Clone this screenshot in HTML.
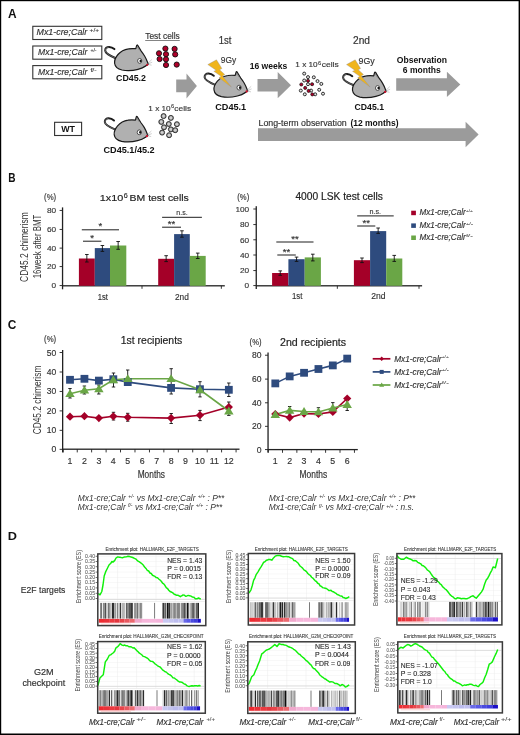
<!DOCTYPE html><html><head><meta charset="utf-8"><style>html,body{margin:0;padding:0;background:#fff;}svg{display:block;will-change:transform;}text{font-family:"Liberation Sans", sans-serif;}</style></head><body>
<svg width="520" height="735" viewBox="0 0 520 735">
<rect x="0" y="0" width="520" height="735" fill="#fff"/>
<rect x="0" y="0" width="520" height="1.2" fill="#000"/>
<rect x="0" y="0" width="1.2" height="735" fill="#000"/>
<rect x="518.6" y="0" width="1.4" height="735" fill="#000"/>
<rect x="0" y="733.5" width="520" height="1.5" fill="#000"/>
<text x="8.10" y="18.10" font-size="12.70" font-weight="bold" font-style="normal" fill="#111" text-anchor="start" textLength="8.60" lengthAdjust="spacingAndGlyphs" >A</text>
<rect x="32.8" y="26.30" width="69" height="13.2" fill="#fff" stroke="#333" stroke-width="1.1"/>
<text x="36.50" y="35.40" font-size="9.00" font-weight="normal" font-style="italic" fill="#333" text-anchor="start" textLength="50.80" lengthAdjust="spacingAndGlyphs" stroke="#333" stroke-width="0.160" >Mx1-cre;Calr</text>
<text x="89.60" y="32.20" font-size="5.60" font-weight="normal" font-style="normal" fill="#333" text-anchor="start" textLength="9.40" lengthAdjust="spacingAndGlyphs" stroke="#333" stroke-width="0.100" >+/+</text>
<rect x="32.8" y="46.00" width="69" height="13.2" fill="#fff" stroke="#333" stroke-width="1.1"/>
<text x="38.00" y="55.10" font-size="9.00" font-weight="normal" font-style="italic" fill="#333" text-anchor="start" textLength="49.30" lengthAdjust="spacingAndGlyphs" stroke="#333" stroke-width="0.160" >Mx1-cre;Calr</text>
<text x="90.40" y="51.90" font-size="5.60" font-weight="normal" font-style="normal" fill="#333" text-anchor="start" textLength="6.20" lengthAdjust="spacingAndGlyphs" stroke="#333" stroke-width="0.100" >+/-</text>
<rect x="32.8" y="65.60" width="69" height="13.2" fill="#fff" stroke="#333" stroke-width="1.1"/>
<text x="38.00" y="74.70" font-size="9.00" font-weight="normal" font-style="italic" fill="#333" text-anchor="start" textLength="49.30" lengthAdjust="spacingAndGlyphs" stroke="#333" stroke-width="0.160" >Mx1-cre;Calr</text>
<text x="90.40" y="71.50" font-size="5.60" font-weight="normal" font-style="normal" fill="#333" text-anchor="start" textLength="6.20" lengthAdjust="spacingAndGlyphs" stroke="#333" stroke-width="0.100" >f/-</text>
<g transform="translate(100,40)">
<path d="M15.8,18.2 C9.8,15.8 5.4,13.4 5.2,10.6 C5.1,8.2 6.9,6.8 9.1,6.9 C11.1,7 13,7.9 14.4,9.1" fill="none" stroke="#1a1a1a" stroke-width="2.0" stroke-linecap="round"/>
<path d="M15.6,18.1 C9.9,15.8 5.5,13.3 5.3,10.6 C5.2,8.6 6.8,7.2 8.8,7.2" fill="none" stroke="#9a9a9a" stroke-width="0.6"/>
<path d="M48.3,24.2 C47.3,21.5 46.2,18.5 44.6,16 C43.5,14.2 42.3,12.5 41.2,11.1 L37.7,5.3 Q37.1,4.6 36.7,5.4 L35.8,8.7 C33.5,8.5 31,8.4 28.5,8.8 C24,9.4 20.5,11.5 18,14.5 C15.6,17.3 14.3,20.5 14.6,23.2 C15,26.5 17.5,29 22,30 C27,30.9 33,30.6 38,29.3 C41.5,28.4 44,27.2 45.5,26 Z" fill="#b0b0b0" stroke="#1a1a1a" stroke-width="1.2" stroke-linejoin="round"/>
<path d="M36.6,8.6 L37.3,6.6 L39.6,10.4" fill="none" stroke="#666" stroke-width="0.5"/>
<ellipse cx="39.7" cy="20.9" rx="2.1" ry="2.4" fill="#fff" stroke="#1a1a1a" stroke-width="0.7"/>
<ellipse cx="40.6" cy="20.95" rx="1.1" ry="1.3" fill="#111"/>
<circle cx="47.3" cy="24.8" r="1.15" fill="#d40f2c"/>
<path d="M46.6,25.7 L43.6,27.2" stroke="#1a1a1a" stroke-width="0.6"/>
<path d="M48,23.2 L51.8,19.6 M48.3,23.8 L52.2,22.2 M48.2,24.4 L51.6,25.2" stroke="#999" stroke-width="0.45"/>
</g>
<g transform="translate(199.4,66.7)">
<path d="M15.8,18.2 C9.8,15.8 5.4,13.4 5.2,10.6 C5.1,8.2 6.9,6.8 9.1,6.9 C11.1,7 13,7.9 14.4,9.1" fill="none" stroke="#1a1a1a" stroke-width="2.0" stroke-linecap="round"/>
<path d="M15.6,18.1 C9.9,15.8 5.5,13.3 5.3,10.6 C5.2,8.6 6.8,7.2 8.8,7.2" fill="none" stroke="#9a9a9a" stroke-width="0.6"/>
<path d="M48.3,24.2 C47.3,21.5 46.2,18.5 44.6,16 C43.5,14.2 42.3,12.5 41.2,11.1 L37.7,5.3 Q37.1,4.6 36.7,5.4 L35.8,8.7 C33.5,8.5 31,8.4 28.5,8.8 C24,9.4 20.5,11.5 18,14.5 C15.6,17.3 14.3,20.5 14.6,23.2 C15,26.5 17.5,29 22,30 C27,30.9 33,30.6 38,29.3 C41.5,28.4 44,27.2 45.5,26 Z" fill="#b0b0b0" stroke="#1a1a1a" stroke-width="1.2" stroke-linejoin="round"/>
<path d="M36.6,8.6 L37.3,6.6 L39.6,10.4" fill="none" stroke="#666" stroke-width="0.5"/>
<ellipse cx="39.7" cy="20.9" rx="2.1" ry="2.4" fill="#fff" stroke="#1a1a1a" stroke-width="0.7"/>
<ellipse cx="40.6" cy="20.95" rx="1.1" ry="1.3" fill="#111"/>
<circle cx="47.3" cy="24.8" r="1.15" fill="#d40f2c"/>
<path d="M46.6,25.7 L43.6,27.2" stroke="#1a1a1a" stroke-width="0.6"/>
<path d="M48,23.2 L51.8,19.6 M48.3,23.8 L52.2,22.2 M48.2,24.4 L51.6,25.2" stroke="#999" stroke-width="0.45"/>
</g>
<g transform="translate(337.9,67.1)">
<path d="M15.8,18.2 C9.8,15.8 5.4,13.4 5.2,10.6 C5.1,8.2 6.9,6.8 9.1,6.9 C11.1,7 13,7.9 14.4,9.1" fill="none" stroke="#1a1a1a" stroke-width="2.0" stroke-linecap="round"/>
<path d="M15.6,18.1 C9.9,15.8 5.5,13.3 5.3,10.6 C5.2,8.6 6.8,7.2 8.8,7.2" fill="none" stroke="#9a9a9a" stroke-width="0.6"/>
<path d="M48.3,24.2 C47.3,21.5 46.2,18.5 44.6,16 C43.5,14.2 42.3,12.5 41.2,11.1 L37.7,5.3 Q37.1,4.6 36.7,5.4 L35.8,8.7 C33.5,8.5 31,8.4 28.5,8.8 C24,9.4 20.5,11.5 18,14.5 C15.6,17.3 14.3,20.5 14.6,23.2 C15,26.5 17.5,29 22,30 C27,30.9 33,30.6 38,29.3 C41.5,28.4 44,27.2 45.5,26 Z" fill="#b0b0b0" stroke="#1a1a1a" stroke-width="1.2" stroke-linejoin="round"/>
<path d="M36.6,8.6 L37.3,6.6 L39.6,10.4" fill="none" stroke="#666" stroke-width="0.5"/>
<ellipse cx="39.7" cy="20.9" rx="2.1" ry="2.4" fill="#fff" stroke="#1a1a1a" stroke-width="0.7"/>
<ellipse cx="40.6" cy="20.95" rx="1.1" ry="1.3" fill="#111"/>
<circle cx="47.3" cy="24.8" r="1.15" fill="#d40f2c"/>
<path d="M46.6,25.7 L43.6,27.2" stroke="#1a1a1a" stroke-width="0.6"/>
<path d="M48,23.2 L51.8,19.6 M48.3,23.8 L52.2,22.2 M48.2,24.4 L51.6,25.2" stroke="#999" stroke-width="0.45"/>
</g>
<g transform="translate(99.6,111.4)">
<path d="M15.8,18.2 C9.8,15.8 5.4,13.4 5.2,10.6 C5.1,8.2 6.9,6.8 9.1,6.9 C11.1,7 13,7.9 14.4,9.1" fill="none" stroke="#1a1a1a" stroke-width="2.0" stroke-linecap="round"/>
<path d="M15.6,18.1 C9.9,15.8 5.5,13.3 5.3,10.6 C5.2,8.6 6.8,7.2 8.8,7.2" fill="none" stroke="#9a9a9a" stroke-width="0.6"/>
<path d="M48.3,24.2 C47.3,21.5 46.2,18.5 44.6,16 C43.5,14.2 42.3,12.5 41.2,11.1 L37.7,5.3 Q37.1,4.6 36.7,5.4 L35.8,8.7 C33.5,8.5 31,8.4 28.5,8.8 C24,9.4 20.5,11.5 18,14.5 C15.6,17.3 14.3,20.5 14.6,23.2 C15,26.5 17.5,29 22,30 C27,30.9 33,30.6 38,29.3 C41.5,28.4 44,27.2 45.5,26 Z" fill="#b0b0b0" stroke="#1a1a1a" stroke-width="1.2" stroke-linejoin="round"/>
<path d="M36.6,8.6 L37.3,6.6 L39.6,10.4" fill="none" stroke="#666" stroke-width="0.5"/>
<ellipse cx="39.7" cy="20.9" rx="2.1" ry="2.4" fill="#fff" stroke="#1a1a1a" stroke-width="0.7"/>
<ellipse cx="40.6" cy="20.95" rx="1.1" ry="1.3" fill="#111"/>
<circle cx="47.3" cy="24.8" r="1.15" fill="#d40f2c"/>
<path d="M46.6,25.7 L43.6,27.2" stroke="#1a1a1a" stroke-width="0.6"/>
<path d="M48,23.2 L51.8,19.6 M48.3,23.8 L52.2,22.2 M48.2,24.4 L51.6,25.2" stroke="#999" stroke-width="0.45"/>
</g>
<polygon points="207.80,64.60 216.50,59.80 221.90,68.50 219.60,69.80 224.80,74.50 222.50,76.00 231.40,87.10 219.00,77.70 221.10,76.30 213.80,71.30 216.10,70.20" fill="#f0b51c" stroke="#8a8aa0" stroke-width="0.35"/>
<polygon points="346.50,64.60 355.20,59.80 360.60,68.50 358.30,69.80 363.50,74.50 361.20,76.00 370.10,87.10 357.70,77.70 359.80,76.30 352.50,71.30 354.80,70.20" fill="#f0b51c" stroke="#8a8aa0" stroke-width="0.35"/>
<text x="145.20" y="39.40" font-size="9.00" font-weight="normal" font-style="normal" fill="#333" text-anchor="start" textLength="34.60" lengthAdjust="spacingAndGlyphs" stroke="#333" stroke-width="0.160" >Test cells</text>
<rect x="145.2" y="40.0" width="34.6" height="0.6" fill="#333"/>
<circle cx="165.4" cy="48.6" r="2.6" fill="#b0002a" stroke="#111" stroke-width="0.9"/>
<circle cx="174.6" cy="48.9" r="2.6" fill="#b0002a" stroke="#111" stroke-width="0.9"/>
<circle cx="159" cy="53.3" r="2.6" fill="#b0002a" stroke="#111" stroke-width="0.9"/>
<circle cx="166" cy="54.2" r="2.6" fill="#b0002a" stroke="#111" stroke-width="0.9"/>
<circle cx="175.2" cy="54.4" r="2.6" fill="#b0002a" stroke="#111" stroke-width="0.9"/>
<circle cx="159.6" cy="59" r="2.6" fill="#b0002a" stroke="#111" stroke-width="0.9"/>
<circle cx="166" cy="59.3" r="2.6" fill="#b0002a" stroke="#111" stroke-width="0.9"/>
<circle cx="166" cy="65" r="2.6" fill="#b0002a" stroke="#111" stroke-width="0.9"/>
<circle cx="176.7" cy="64.6" r="2.6" fill="#b0002a" stroke="#111" stroke-width="0.9"/>
<text x="116.00" y="81.00" font-size="8.30" font-weight="bold" font-style="normal" fill="#111" text-anchor="start" textLength="30.00" lengthAdjust="spacingAndGlyphs" >CD45.2</text>
<text x="218.70" y="43.70" font-size="10.00" font-weight="normal" font-style="normal" fill="#333" text-anchor="start" textLength="12.70" lengthAdjust="spacingAndGlyphs" stroke="#333" stroke-width="0.178" >1st</text>
<text x="220.80" y="63.30" font-size="8.30" font-weight="normal" font-style="normal" fill="#333" text-anchor="start" textLength="15.50" lengthAdjust="spacingAndGlyphs" stroke="#333" stroke-width="0.148" >9Gy</text>
<text x="249.70" y="69.00" font-size="9.30" font-weight="bold" font-style="normal" fill="#111" text-anchor="start" textLength="37.70" lengthAdjust="spacingAndGlyphs" >16 weeks</text>
<text x="215.20" y="110.20" font-size="8.40" font-weight="bold" font-style="normal" fill="#111" text-anchor="start" textLength="31.00" lengthAdjust="spacingAndGlyphs" >CD45.1</text>
<polygon points="176.2,79.6 186.5,79.6 186.5,73.5 196.9,85.9 186.5,98.5 186.5,92.3 176.2,92.3" fill="#9b9b9b"/>
<polygon points="257.5,78.9 277.7,78.9 277.7,72.0 291.0,85.2 277.7,98.3 277.7,91.6 257.5,91.6" fill="#9b9b9b"/>
<polygon points="396.2,78.2 446.9,78.2 446.9,71.8 460.3,84.4 446.9,96.9 446.9,90.8 396.2,90.8" fill="#9b9b9b"/>
<polygon points="258.0,128.2 465.6,128.2 465.6,121.8 478.6,134.6 465.6,147.2 465.6,141.0 258.0,141.0" fill="#9b9b9b"/>
<text x="295.30" y="66.90" font-size="7.80" font-weight="normal" font-style="normal" fill="#333" text-anchor="start" textLength="22.40" lengthAdjust="spacingAndGlyphs" stroke="#333" stroke-width="0.139" >1 x 10</text>
<text x="318.00" y="64.60" font-size="4.90" font-weight="normal" font-style="normal" fill="#333" text-anchor="start" textLength="3.20" lengthAdjust="spacingAndGlyphs" stroke="#333" stroke-width="0.087" >6</text>
<text x="321.70" y="66.90" font-size="7.80" font-weight="normal" font-style="normal" fill="#333" text-anchor="start" textLength="17.00" lengthAdjust="spacingAndGlyphs" stroke="#333" stroke-width="0.139" >cells</text>
<circle cx="304.2" cy="73.6" r="1.5" fill="#e8e8e8" stroke="#111" stroke-width="0.85"/>
<circle cx="308" cy="77.1" r="1.5" fill="#e8e8e8" stroke="#111" stroke-width="0.85"/>
<circle cx="313.8" cy="77.3" r="1.5" fill="#e8e8e8" stroke="#111" stroke-width="0.85"/>
<circle cx="304.2" cy="80.5" r="1.5" fill="#e8e8e8" stroke="#111" stroke-width="0.85"/>
<circle cx="317.5" cy="81.1" r="1.5" fill="#e8e8e8" stroke="#111" stroke-width="0.85"/>
<circle cx="321.3" cy="83.9" r="1.5" fill="#e8e8e8" stroke="#111" stroke-width="0.85"/>
<circle cx="308" cy="84.2" r="1.5" fill="#e8e8e8" stroke="#111" stroke-width="0.85"/>
<circle cx="300.8" cy="90.6" r="1.5" fill="#e8e8e8" stroke="#111" stroke-width="0.85"/>
<circle cx="311.1" cy="90.6" r="1.5" fill="#e8e8e8" stroke="#111" stroke-width="0.85"/>
<circle cx="319.2" cy="89.8" r="1.5" fill="#e8e8e8" stroke="#111" stroke-width="0.85"/>
<circle cx="304.8" cy="94.3" r="1.5" fill="#e8e8e8" stroke="#111" stroke-width="0.85"/>
<circle cx="315.2" cy="94.3" r="1.5" fill="#e8e8e8" stroke="#111" stroke-width="0.85"/>
<circle cx="323" cy="93.7" r="1.5" fill="#e8e8e8" stroke="#111" stroke-width="0.85"/>
<circle cx="308" cy="80.8" r="1.55" fill="#b0002a" stroke="#111" stroke-width="0.7"/>
<circle cx="301.3" cy="84.5" r="1.55" fill="#b0002a" stroke="#111" stroke-width="0.7"/>
<circle cx="312.1" cy="84.2" r="1.55" fill="#b0002a" stroke="#111" stroke-width="0.7"/>
<circle cx="305.2" cy="87.9" r="1.55" fill="#b0002a" stroke="#111" stroke-width="0.7"/>
<circle cx="308.6" cy="90.9" r="1.55" fill="#b0002a" stroke="#111" stroke-width="0.7"/>
<circle cx="312.3" cy="94.4" r="1.55" fill="#b0002a" stroke="#111" stroke-width="0.7"/>
<text x="353.00" y="43.50" font-size="10.00" font-weight="normal" font-style="normal" fill="#333" text-anchor="start" textLength="17.00" lengthAdjust="spacingAndGlyphs" stroke="#333" stroke-width="0.178" >2nd</text>
<text x="358.60" y="63.70" font-size="8.30" font-weight="normal" font-style="normal" fill="#333" text-anchor="start" textLength="16.20" lengthAdjust="spacingAndGlyphs" stroke="#333" stroke-width="0.148" >9Gy</text>
<text x="354.60" y="109.80" font-size="8.40" font-weight="bold" font-style="normal" fill="#111" text-anchor="start" textLength="29.40" lengthAdjust="spacingAndGlyphs" >CD45.1</text>
<text x="396.80" y="62.80" font-size="8.60" font-weight="bold" font-style="normal" fill="#111" text-anchor="start" textLength="50.10" lengthAdjust="spacingAndGlyphs" >Observation</text>
<text x="402.80" y="73.00" font-size="8.60" font-weight="bold" font-style="normal" fill="#111" text-anchor="start" textLength="37.90" lengthAdjust="spacingAndGlyphs" >6 months</text>
<rect x="54.6" y="122.3" width="27" height="13.2" fill="#fff" stroke="#333" stroke-width="1.1"/>
<text x="61.20" y="131.90" font-size="9.00" font-weight="bold" font-style="normal" fill="#111" text-anchor="start" textLength="13.80" lengthAdjust="spacingAndGlyphs" >WT</text>
<text x="103.50" y="153.10" font-size="8.20" font-weight="bold" font-style="normal" fill="#111" text-anchor="start" textLength="51.20" lengthAdjust="spacingAndGlyphs" >CD45.1/45.2</text>
<text x="148.30" y="110.60" font-size="8.00" font-weight="normal" font-style="normal" fill="#333" text-anchor="start" textLength="22.40" lengthAdjust="spacingAndGlyphs" stroke="#333" stroke-width="0.142" >1 x 10</text>
<text x="171.00" y="108.00" font-size="4.90" font-weight="normal" font-style="normal" fill="#333" text-anchor="start" textLength="3.20" lengthAdjust="spacingAndGlyphs" stroke="#333" stroke-width="0.087" >6</text>
<text x="174.30" y="110.60" font-size="8.00" font-weight="normal" font-style="normal" fill="#333" text-anchor="start" textLength="16.80" lengthAdjust="spacingAndGlyphs" stroke="#333" stroke-width="0.142" >cells</text>
<circle cx="163.6" cy="116.1" r="2.5" fill="#a0a0a0" stroke="#1a1a1a" stroke-width="0.85"/>
<circle cx="163.6" cy="116.1" r="1.3" fill="#d0d0d0"/>
<circle cx="170.9" cy="117.9" r="2.5" fill="#a0a0a0" stroke="#1a1a1a" stroke-width="0.85"/>
<circle cx="170.9" cy="117.9" r="1.3" fill="#d0d0d0"/>
<circle cx="161.3" cy="121.9" r="2.5" fill="#a0a0a0" stroke="#1a1a1a" stroke-width="0.85"/>
<circle cx="161.3" cy="121.9" r="1.3" fill="#d0d0d0"/>
<circle cx="168.8" cy="124" r="2.5" fill="#a0a0a0" stroke="#1a1a1a" stroke-width="0.85"/>
<circle cx="168.8" cy="124" r="1.3" fill="#d0d0d0"/>
<circle cx="176.9" cy="124.2" r="2.5" fill="#a0a0a0" stroke="#1a1a1a" stroke-width="0.85"/>
<circle cx="176.9" cy="124.2" r="1.3" fill="#d0d0d0"/>
<circle cx="164" cy="127.3" r="2.5" fill="#a0a0a0" stroke="#1a1a1a" stroke-width="0.85"/>
<circle cx="164" cy="127.3" r="1.3" fill="#d0d0d0"/>
<circle cx="170.9" cy="129.4" r="2.5" fill="#a0a0a0" stroke="#1a1a1a" stroke-width="0.85"/>
<circle cx="170.9" cy="129.4" r="1.3" fill="#d0d0d0"/>
<circle cx="175.2" cy="130.2" r="2.5" fill="#a0a0a0" stroke="#1a1a1a" stroke-width="0.85"/>
<circle cx="175.2" cy="130.2" r="1.3" fill="#d0d0d0"/>
<circle cx="162.1" cy="132.6" r="2.5" fill="#a0a0a0" stroke="#1a1a1a" stroke-width="0.85"/>
<circle cx="162.1" cy="132.6" r="1.3" fill="#d0d0d0"/>
<circle cx="169.1" cy="135.2" r="2.5" fill="#a0a0a0" stroke="#1a1a1a" stroke-width="0.85"/>
<circle cx="169.1" cy="135.2" r="1.3" fill="#d0d0d0"/>
<text x="258.50" y="125.70" font-size="8.80" font-weight="normal" font-style="normal" fill="#333" text-anchor="start" textLength="88.20" lengthAdjust="spacingAndGlyphs" stroke="#333" stroke-width="0.156" >Long-term observation</text>
<text x="350.40" y="125.70" font-size="8.80" font-weight="bold" font-style="normal" fill="#111" text-anchor="start" textLength="48.10" lengthAdjust="spacingAndGlyphs" >(12 months)</text>
<text x="8.30" y="182.30" font-size="11.90" font-weight="bold" font-style="normal" fill="#111" text-anchor="start" textLength="7.30" lengthAdjust="spacingAndGlyphs" >B</text>
<rect x="61.9" y="207.4" width="1.3" height="81.9" fill="#222"/>
<rect x="62.5" y="285.15000000000003" width="162.3" height="1.3" fill="#222"/>
<rect x="59.6" y="209.95000000000002" width="3" height="0.9" fill="#222"/>
<text x="56.20" y="213.10" font-size="7.60" font-weight="normal" font-style="normal" fill="#333" text-anchor="end" textLength="9.20" lengthAdjust="spacingAndGlyphs" stroke="#333" stroke-width="0.135" >80</text>
<rect x="59.6" y="228.95000000000002" width="3" height="0.9" fill="#222"/>
<text x="56.20" y="232.10" font-size="7.60" font-weight="normal" font-style="normal" fill="#333" text-anchor="end" textLength="9.20" lengthAdjust="spacingAndGlyphs" stroke="#333" stroke-width="0.135" >60</text>
<rect x="59.6" y="247.65" width="3" height="0.9" fill="#222"/>
<text x="56.20" y="250.80" font-size="7.60" font-weight="normal" font-style="normal" fill="#333" text-anchor="end" textLength="9.20" lengthAdjust="spacingAndGlyphs" stroke="#333" stroke-width="0.135" >40</text>
<rect x="59.6" y="266.15000000000003" width="3" height="0.9" fill="#222"/>
<text x="56.20" y="269.30" font-size="7.60" font-weight="normal" font-style="normal" fill="#333" text-anchor="end" textLength="9.20" lengthAdjust="spacingAndGlyphs" stroke="#333" stroke-width="0.135" >20</text>
<rect x="59.6" y="285.15000000000003" width="3" height="0.9" fill="#222"/>
<text x="56.20" y="288.30" font-size="7.60" font-weight="normal" font-style="normal" fill="#333" text-anchor="end" textLength="4.60" lengthAdjust="spacingAndGlyphs" stroke="#333" stroke-width="0.135" >0</text>
<rect x="141.55" y="285.8" width="0.9" height="3" fill="#222"/>
<rect x="220.85000000000002" y="285.8" width="0.9" height="3" fill="#222"/>
<text x="44.10" y="200.00" font-size="8.20" font-weight="normal" font-style="normal" fill="#333" text-anchor="start" textLength="12.10" lengthAdjust="spacingAndGlyphs" stroke="#333" stroke-width="0.146" >(%)</text>
<text transform="translate(28.20,247.10) rotate(-90)" x="0" y="0" font-size="10.60" fill="#333" text-anchor="middle" textLength="69.60" lengthAdjust="spacingAndGlyphs">CD45.2 chimerism</text>
<text transform="translate(41.00,246.50) rotate(-90)" x="0" y="0" font-size="10.60" fill="#333" text-anchor="middle" textLength="63.70" lengthAdjust="spacingAndGlyphs">16week after BMT</text>
<text x="99.80" y="200.70" font-size="9.20" font-weight="normal" font-style="normal" fill="#222" text-anchor="start" textLength="23.50" lengthAdjust="spacingAndGlyphs" stroke="#222" stroke-width="0.164" >1x10</text>
<text x="123.70" y="197.60" font-size="7.00" font-weight="normal" font-style="normal" fill="#222" text-anchor="start" textLength="4.00" lengthAdjust="spacingAndGlyphs" stroke="#222" stroke-width="0.124" >6</text>
<text x="129.60" y="200.70" font-size="9.20" font-weight="normal" font-style="normal" fill="#222" text-anchor="start" textLength="59.20" lengthAdjust="spacingAndGlyphs" stroke="#222" stroke-width="0.164" >BM test cells</text>
<text x="97.70" y="299.60" font-size="8.40" font-weight="normal" font-style="normal" fill="#333" text-anchor="start" textLength="10.20" lengthAdjust="spacingAndGlyphs" stroke="#333" stroke-width="0.149" >1st</text>
<text x="174.90" y="299.60" font-size="8.40" font-weight="normal" font-style="normal" fill="#333" text-anchor="start" textLength="13.90" lengthAdjust="spacingAndGlyphs" stroke="#333" stroke-width="0.149" >2nd</text>
<rect x="78.90" y="258.50" width="15.90" height="27.30" fill="#a40028"/>
<rect x="94.80" y="248.10" width="15.20" height="37.70" fill="#2e4b7e"/>
<rect x="110.00" y="245.50" width="16.30" height="40.30" fill="#6aa646"/>
<path d="M86.85,254.50 V262.00 M85.05,254.50 H88.65 M85.05,262.00 H88.65" stroke="#111" stroke-width="0.9" fill="none"/>
<path d="M102.40,245.50 V251.40 M100.60,245.50 H104.20 M100.60,251.40 H104.20" stroke="#111" stroke-width="0.9" fill="none"/>
<path d="M118.15,241.50 V249.30 M116.35,241.50 H119.95 M116.35,249.30 H119.95" stroke="#111" stroke-width="0.9" fill="none"/>
<rect x="158.20" y="258.80" width="15.90" height="27.00" fill="#a40028"/>
<rect x="174.10" y="234.10" width="15.70" height="51.70" fill="#2e4b7e"/>
<rect x="189.80" y="255.90" width="15.90" height="29.90" fill="#6aa646"/>
<path d="M166.15,255.70 V261.60 M164.35,255.70 H167.95 M164.35,261.60 H167.95" stroke="#111" stroke-width="0.9" fill="none"/>
<path d="M181.95,230.80 V237.20 M180.15,230.80 H183.75 M180.15,237.20 H183.75" stroke="#111" stroke-width="0.9" fill="none"/>
<path d="M197.75,253.10 V258.50 M195.95,253.10 H199.55 M195.95,258.50 H199.55" stroke="#111" stroke-width="0.9" fill="none"/>
<rect x="81.80" y="229.30" width="37.20" height="1.0" fill="#1e1e1e"/>
<text x="100.40" y="229.30" font-size="9.50" font-weight="normal" font-style="normal" fill="#333" text-anchor="middle" stroke="#333" stroke-width="0.169" >*</text>
<rect x="83.00" y="240.70" width="18.40" height="1.0" fill="#1e1e1e"/>
<text x="92.20" y="240.70" font-size="9.50" font-weight="normal" font-style="normal" fill="#333" text-anchor="middle" stroke="#333" stroke-width="0.169" >*</text>
<rect x="162.10" y="216.80" width="39.80" height="1.0" fill="#1e1e1e"/>
<text x="182.00" y="215.20" font-size="7.00" font-weight="normal" font-style="normal" fill="#333" text-anchor="middle" stroke="#333" stroke-width="0.124" >n.s.</text>
<rect x="162.10" y="226.70" width="18.90" height="1.0" fill="#1e1e1e"/>
<text x="171.50" y="226.70" font-size="9.50" font-weight="normal" font-style="normal" fill="#333" text-anchor="middle" stroke="#333" stroke-width="0.169" >**</text>
<rect x="255.6" y="206.2" width="1.3" height="82.8" fill="#222"/>
<rect x="256.2" y="285.15000000000003" width="165.90000000000003" height="1.3" fill="#222"/>
<rect x="253.3" y="208.55" width="3" height="0.9" fill="#222"/>
<text x="249.20" y="211.70" font-size="7.60" font-weight="normal" font-style="normal" fill="#333" text-anchor="end" textLength="13.80" lengthAdjust="spacingAndGlyphs" stroke="#333" stroke-width="0.135" >100</text>
<rect x="253.3" y="224.15" width="3" height="0.9" fill="#222"/>
<text x="249.20" y="227.30" font-size="7.60" font-weight="normal" font-style="normal" fill="#333" text-anchor="end" textLength="9.20" lengthAdjust="spacingAndGlyphs" stroke="#333" stroke-width="0.135" >80</text>
<rect x="253.3" y="239.35000000000002" width="3" height="0.9" fill="#222"/>
<text x="249.20" y="242.50" font-size="7.60" font-weight="normal" font-style="normal" fill="#333" text-anchor="end" textLength="9.20" lengthAdjust="spacingAndGlyphs" stroke="#333" stroke-width="0.135" >60</text>
<rect x="253.3" y="254.55" width="3" height="0.9" fill="#222"/>
<text x="249.20" y="257.70" font-size="7.60" font-weight="normal" font-style="normal" fill="#333" text-anchor="end" textLength="9.20" lengthAdjust="spacingAndGlyphs" stroke="#333" stroke-width="0.135" >40</text>
<rect x="253.3" y="270.15000000000003" width="3" height="0.9" fill="#222"/>
<text x="249.20" y="273.30" font-size="7.60" font-weight="normal" font-style="normal" fill="#333" text-anchor="end" textLength="9.20" lengthAdjust="spacingAndGlyphs" stroke="#333" stroke-width="0.135" >20</text>
<rect x="253.3" y="285.15000000000003" width="3" height="0.9" fill="#222"/>
<text x="249.20" y="288.30" font-size="7.60" font-weight="normal" font-style="normal" fill="#333" text-anchor="end" textLength="4.60" lengthAdjust="spacingAndGlyphs" stroke="#333" stroke-width="0.135" >0</text>
<rect x="336.85" y="285.8" width="0.9" height="3" fill="#222"/>
<rect x="418.55" y="285.8" width="0.9" height="3" fill="#222"/>
<text x="237.30" y="199.80" font-size="8.20" font-weight="normal" font-style="normal" fill="#333" text-anchor="start" textLength="11.90" lengthAdjust="spacingAndGlyphs" stroke="#333" stroke-width="0.146" >(%)</text>
<text x="295.40" y="199.90" font-size="10.00" font-weight="normal" font-style="normal" fill="#222" text-anchor="start" textLength="87.50" lengthAdjust="spacingAndGlyphs" stroke="#222" stroke-width="0.178" >4000 LSK test cells</text>
<text x="292.00" y="299.40" font-size="8.40" font-weight="normal" font-style="normal" fill="#333" text-anchor="start" textLength="10.40" lengthAdjust="spacingAndGlyphs" stroke="#333" stroke-width="0.149" >1st</text>
<text x="371.20" y="299.40" font-size="8.40" font-weight="normal" font-style="normal" fill="#333" text-anchor="start" textLength="14.30" lengthAdjust="spacingAndGlyphs" stroke="#333" stroke-width="0.149" >2nd</text>
<rect x="272.10" y="273.00" width="16.30" height="12.80" fill="#a40028"/>
<rect x="288.40" y="259.20" width="16.30" height="26.60" fill="#2e4b7e"/>
<rect x="304.70" y="257.40" width="16.20" height="28.40" fill="#6aa646"/>
<path d="M280.25,270.90 V275.30 M278.45,270.90 H282.05 M278.45,275.30 H282.05" stroke="#111" stroke-width="0.9" fill="none"/>
<path d="M296.55,257.10 V261.40 M294.75,257.10 H298.35 M294.75,261.40 H298.35" stroke="#111" stroke-width="0.9" fill="none"/>
<path d="M312.80,254.20 V260.90 M311.00,254.20 H314.60 M311.00,260.90 H314.60" stroke="#111" stroke-width="0.9" fill="none"/>
<rect x="353.90" y="260.20" width="16.20" height="25.60" fill="#a40028"/>
<rect x="370.10" y="231.10" width="16.10" height="54.70" fill="#2e4b7e"/>
<rect x="386.20" y="258.50" width="16.10" height="27.30" fill="#6aa646"/>
<path d="M362.00,258.00 V262.60 M360.20,258.00 H363.80 M360.20,262.60 H363.80" stroke="#111" stroke-width="0.9" fill="none"/>
<path d="M378.15,228.00 V233.40 M376.35,228.00 H379.95 M376.35,233.40 H379.95" stroke="#111" stroke-width="0.9" fill="none"/>
<path d="M394.25,255.40 V261.40 M392.45,255.40 H396.05 M392.45,261.40 H396.05" stroke="#111" stroke-width="0.9" fill="none"/>
<rect x="276.30" y="241.50" width="37.20" height="1.0" fill="#1e1e1e"/>
<text x="295.00" y="241.50" font-size="9.50" font-weight="normal" font-style="normal" fill="#333" text-anchor="middle" stroke="#333" stroke-width="0.169" >**</text>
<rect x="277.30" y="254.50" width="18.50" height="1.0" fill="#1e1e1e"/>
<text x="286.50" y="254.50" font-size="9.50" font-weight="normal" font-style="normal" fill="#333" text-anchor="middle" stroke="#333" stroke-width="0.169" >**</text>
<rect x="357.20" y="215.40" width="36.50" height="1.0" fill="#1e1e1e"/>
<text x="375.30" y="213.60" font-size="7.20" font-weight="normal" font-style="normal" fill="#333" text-anchor="middle" stroke="#333" stroke-width="0.128" >n.s.</text>
<rect x="357.20" y="225.50" width="18.10" height="1.0" fill="#1e1e1e"/>
<text x="366.20" y="225.50" font-size="9.50" font-weight="normal" font-style="normal" fill="#333" text-anchor="middle" stroke="#333" stroke-width="0.169" >**</text>
<rect x="411.2" y="210.7" width="4.7" height="4.5" fill="#a40028"/>
<text x="419.40" y="215.30" font-size="8.40" font-weight="normal" font-style="italic" fill="#333" text-anchor="start" textLength="46.30" lengthAdjust="spacingAndGlyphs" stroke="#333" stroke-width="0.149" >Mx1-cre;Calr</text>
<text x="465.90" y="212.10" font-size="3.90" font-weight="normal" font-style="normal" fill="#555" text-anchor="start" textLength="7.00" lengthAdjust="spacingAndGlyphs" stroke="#555" stroke-width="0.069" >+/+</text>
<rect x="411.2" y="223.4" width="4.7" height="4.5" fill="#2e4b7e"/>
<text x="419.40" y="228.00" font-size="8.40" font-weight="normal" font-style="italic" fill="#333" text-anchor="start" textLength="46.30" lengthAdjust="spacingAndGlyphs" stroke="#333" stroke-width="0.149" >Mx1-cre;Calr</text>
<text x="465.90" y="224.80" font-size="3.90" font-weight="normal" font-style="normal" fill="#555" text-anchor="start" textLength="7.00" lengthAdjust="spacingAndGlyphs" stroke="#555" stroke-width="0.069" >+/-</text>
<rect x="411.2" y="235.5" width="4.7" height="4.5" fill="#6aa646"/>
<text x="419.40" y="240.10" font-size="8.40" font-weight="normal" font-style="italic" fill="#333" text-anchor="start" textLength="46.30" lengthAdjust="spacingAndGlyphs" stroke="#333" stroke-width="0.149" >Mx1-cre;Calr</text>
<text x="465.90" y="236.90" font-size="3.90" font-weight="normal" font-style="normal" fill="#555" text-anchor="start" textLength="7.00" lengthAdjust="spacingAndGlyphs" stroke="#555" stroke-width="0.069" >f/-</text>
<text x="7.80" y="328.70" font-size="12.50" font-weight="bold" font-style="normal" fill="#111" text-anchor="start" textLength="8.60" lengthAdjust="spacingAndGlyphs" >C</text>
<rect x="62.0" y="350.0" width="1.3" height="102.4" fill="#222"/>
<rect x="62.6" y="448.55" width="176.9" height="1.3" fill="#222"/>
<rect x="59.6" y="352.05" width="3" height="0.9" fill="#222"/>
<text x="56.20" y="355.50" font-size="8.70" font-weight="normal" font-style="normal" fill="#333" text-anchor="end" textLength="9.50" lengthAdjust="spacingAndGlyphs" stroke="#333" stroke-width="0.155" >50</text>
<rect x="59.6" y="371.55" width="3" height="0.9" fill="#222"/>
<text x="56.20" y="375.00" font-size="8.70" font-weight="normal" font-style="normal" fill="#333" text-anchor="end" textLength="9.50" lengthAdjust="spacingAndGlyphs" stroke="#333" stroke-width="0.155" >40</text>
<rect x="59.6" y="390.95" width="3" height="0.9" fill="#222"/>
<text x="56.20" y="394.40" font-size="8.70" font-weight="normal" font-style="normal" fill="#333" text-anchor="end" textLength="9.50" lengthAdjust="spacingAndGlyphs" stroke="#333" stroke-width="0.155" >30</text>
<rect x="59.6" y="410.45" width="3" height="0.9" fill="#222"/>
<text x="56.20" y="413.90" font-size="8.70" font-weight="normal" font-style="normal" fill="#333" text-anchor="end" textLength="9.50" lengthAdjust="spacingAndGlyphs" stroke="#333" stroke-width="0.155" >20</text>
<rect x="59.6" y="429.85" width="3" height="0.9" fill="#222"/>
<text x="56.20" y="433.30" font-size="8.70" font-weight="normal" font-style="normal" fill="#333" text-anchor="end" textLength="9.50" lengthAdjust="spacingAndGlyphs" stroke="#333" stroke-width="0.155" >10</text>
<rect x="59.6" y="448.85" width="3" height="0.9" fill="#222"/>
<text x="56.20" y="452.30" font-size="8.70" font-weight="normal" font-style="normal" fill="#333" text-anchor="end" textLength="4.80" lengthAdjust="spacingAndGlyphs" stroke="#333" stroke-width="0.155" >0</text>
<rect x="62.75" y="449.2" width="0.9" height="3.2" fill="#222"/>
<rect x="76.77" y="449.2" width="0.9" height="3.2" fill="#222"/>
<rect x="91.21" y="449.2" width="0.9" height="3.2" fill="#222"/>
<rect x="105.65" y="449.2" width="0.9" height="3.2" fill="#222"/>
<rect x="120.09" y="449.2" width="0.9" height="3.2" fill="#222"/>
<rect x="134.53" y="449.2" width="0.9" height="3.2" fill="#222"/>
<rect x="148.97" y="449.2" width="0.9" height="3.2" fill="#222"/>
<rect x="163.41" y="449.2" width="0.9" height="3.2" fill="#222"/>
<rect x="177.85" y="449.2" width="0.9" height="3.2" fill="#222"/>
<rect x="192.29" y="449.2" width="0.9" height="3.2" fill="#222"/>
<rect x="206.73" y="449.2" width="0.9" height="3.2" fill="#222"/>
<rect x="221.17" y="449.2" width="0.9" height="3.2" fill="#222"/>
<rect x="235.61" y="449.2" width="0.9" height="3.2" fill="#222"/>
<text x="70.00" y="463.80" font-size="8.80" font-weight="normal" font-style="normal" fill="#333" text-anchor="middle" stroke="#333" stroke-width="0.156" >1</text>
<text x="84.44" y="463.80" font-size="8.80" font-weight="normal" font-style="normal" fill="#333" text-anchor="middle" stroke="#333" stroke-width="0.156" >2</text>
<text x="98.88" y="463.80" font-size="8.80" font-weight="normal" font-style="normal" fill="#333" text-anchor="middle" stroke="#333" stroke-width="0.156" >3</text>
<text x="113.32" y="463.80" font-size="8.80" font-weight="normal" font-style="normal" fill="#333" text-anchor="middle" stroke="#333" stroke-width="0.156" >4</text>
<text x="127.76" y="463.80" font-size="8.80" font-weight="normal" font-style="normal" fill="#333" text-anchor="middle" stroke="#333" stroke-width="0.156" >5</text>
<text x="142.20" y="463.80" font-size="8.80" font-weight="normal" font-style="normal" fill="#333" text-anchor="middle" stroke="#333" stroke-width="0.156" >6</text>
<text x="156.64" y="463.80" font-size="8.80" font-weight="normal" font-style="normal" fill="#333" text-anchor="middle" stroke="#333" stroke-width="0.156" >7</text>
<text x="171.08" y="463.80" font-size="8.80" font-weight="normal" font-style="normal" fill="#333" text-anchor="middle" stroke="#333" stroke-width="0.156" >8</text>
<text x="185.52" y="463.80" font-size="8.80" font-weight="normal" font-style="normal" fill="#333" text-anchor="middle" stroke="#333" stroke-width="0.156" >9</text>
<text x="199.96" y="463.80" font-size="8.80" font-weight="normal" font-style="normal" fill="#333" text-anchor="middle" stroke="#333" stroke-width="0.156" >10</text>
<text x="214.40" y="463.80" font-size="8.80" font-weight="normal" font-style="normal" fill="#333" text-anchor="middle" stroke="#333" stroke-width="0.156" >11</text>
<text x="228.84" y="463.80" font-size="8.80" font-weight="normal" font-style="normal" fill="#333" text-anchor="middle" stroke="#333" stroke-width="0.156" >12</text>
<text x="137.70" y="477.60" font-size="10.00" font-weight="normal" font-style="normal" fill="#333" text-anchor="start" textLength="27.30" lengthAdjust="spacingAndGlyphs" stroke="#333" stroke-width="0.178" >Months</text>
<text x="44.10" y="342.00" font-size="8.20" font-weight="normal" font-style="normal" fill="#333" text-anchor="start" textLength="12.10" lengthAdjust="spacingAndGlyphs" stroke="#333" stroke-width="0.146" >(%)</text>
<text transform="translate(41.30,400.00) rotate(-90)" x="0" y="0" font-size="11.40" fill="#333" text-anchor="middle" textLength="68.70" lengthAdjust="spacingAndGlyphs">CD45.2 chimerism</text>
<text x="120.80" y="343.90" font-size="10.40" font-weight="normal" font-style="normal" fill="#222" text-anchor="start" textLength="61.50" lengthAdjust="spacingAndGlyphs" stroke="#222" stroke-width="0.185" >1st recipients</text>
<path d="M70.00,388.50 V398.00 M68.30,388.50 H71.70 M68.30,398.00 H71.70" stroke="#111" stroke-width="0.9" fill="none"/>
<path d="M84.40,386.00 V394.00 M82.70,386.00 H86.10 M82.70,394.00 H86.10" stroke="#111" stroke-width="0.9" fill="none"/>
<path d="M98.80,385.00 V394.00 M97.10,385.00 H100.50 M97.10,394.00 H100.50" stroke="#111" stroke-width="0.9" fill="none"/>
<path d="M113.50,373.00 V387.00 M111.80,373.00 H115.20 M111.80,387.00 H115.20" stroke="#111" stroke-width="0.9" fill="none"/>
<path d="M127.70,370.00 V385.00 M126.00,370.00 H129.40 M126.00,385.00 H129.40" stroke="#111" stroke-width="0.9" fill="none"/>
<path d="M171.20,368.70 V394.00 M169.50,368.70 H172.90 M169.50,394.00 H172.90" stroke="#111" stroke-width="0.9" fill="none"/>
<path d="M200.00,381.70 V396.90 M198.30,381.70 H201.70 M198.30,396.90 H201.70" stroke="#111" stroke-width="0.9" fill="none"/>
<path d="M228.80,383.00 V396.50 M227.10,383.00 H230.50 M227.10,396.50 H230.50" stroke="#111" stroke-width="0.9" fill="none"/>
<path d="M113.50,412.30 V420.00 M111.80,412.30 H115.20 M111.80,420.00 H115.20" stroke="#111" stroke-width="0.9" fill="none"/>
<path d="M127.70,413.30 V421.20 M126.00,413.30 H129.40 M126.00,421.20 H129.40" stroke="#111" stroke-width="0.9" fill="none"/>
<path d="M171.20,413.50 V423.50 M169.50,413.50 H172.90 M169.50,423.50 H172.90" stroke="#111" stroke-width="0.9" fill="none"/>
<path d="M200.00,410.40 V420.60 M198.30,410.40 H201.70 M198.30,420.60 H201.70" stroke="#111" stroke-width="0.9" fill="none"/>
<path d="M228.80,402.00 V415.40 M227.10,402.00 H230.50 M227.10,415.40 H230.50" stroke="#111" stroke-width="0.9" fill="none"/>
<polyline points="70.00,416.70 84.44,416.20 98.88,418.10 113.32,416.30 127.76,417.30 171.08,418.10 199.96,415.20 228.84,407.10" fill="none" stroke="#a40028" stroke-width="1.6"/>
<polyline points="70.00,379.80 84.44,378.80 98.88,380.60 113.32,379.20 127.76,382.10 171.08,387.90 199.96,389.20 228.84,389.80" fill="none" stroke="#2e4b7e" stroke-width="1.6"/>
<polyline points="70.00,393.70 84.44,390.20 98.88,388.80 113.32,379.80 127.76,378.70 171.08,378.70 199.96,389.80 228.84,411.00" fill="none" stroke="#6aa646" stroke-width="1.6"/>
<path d="M70.00,412.60 L74.10,416.70 L70.00,420.80 L65.90,416.70Z" fill="#a40028"/>
<path d="M84.44,412.10 L88.54,416.20 L84.44,420.30 L80.34,416.20Z" fill="#a40028"/>
<path d="M98.88,414.00 L102.98,418.10 L98.88,422.20 L94.78,418.10Z" fill="#a40028"/>
<path d="M113.32,412.20 L117.42,416.30 L113.32,420.40 L109.22,416.30Z" fill="#a40028"/>
<path d="M127.76,413.20 L131.86,417.30 L127.76,421.40 L123.66,417.30Z" fill="#a40028"/>
<path d="M171.08,414.00 L175.18,418.10 L171.08,422.20 L166.98,418.10Z" fill="#a40028"/>
<path d="M199.96,411.10 L204.06,415.20 L199.96,419.30 L195.86,415.20Z" fill="#a40028"/>
<path d="M228.84,403.00 L232.94,407.10 L228.84,411.20 L224.74,407.10Z" fill="#a40028"/>
<rect x="66.10" y="375.90" width="7.80" height="7.80" fill="#2e4b7e"/>
<rect x="80.54" y="374.90" width="7.80" height="7.80" fill="#2e4b7e"/>
<rect x="94.98" y="376.70" width="7.80" height="7.80" fill="#2e4b7e"/>
<rect x="109.42" y="375.30" width="7.80" height="7.80" fill="#2e4b7e"/>
<rect x="123.86" y="378.20" width="7.80" height="7.80" fill="#2e4b7e"/>
<rect x="167.18" y="384.00" width="7.80" height="7.80" fill="#2e4b7e"/>
<rect x="196.06" y="385.30" width="7.80" height="7.80" fill="#2e4b7e"/>
<rect x="224.94" y="385.90" width="7.80" height="7.80" fill="#2e4b7e"/>
<path d="M70.00,389.20 L74.72,397.07 L65.28,397.07Z" fill="#6aa646"/>
<path d="M84.44,385.70 L89.16,393.57 L79.72,393.57Z" fill="#6aa646"/>
<path d="M98.88,384.30 L103.60,392.18 L94.16,392.18Z" fill="#6aa646"/>
<path d="M113.32,375.30 L118.04,383.18 L108.59,383.18Z" fill="#6aa646"/>
<path d="M127.76,374.20 L132.48,382.07 L123.03,382.07Z" fill="#6aa646"/>
<path d="M171.08,374.20 L175.80,382.07 L166.35,382.07Z" fill="#6aa646"/>
<path d="M199.96,385.30 L204.69,393.18 L195.24,393.18Z" fill="#6aa646"/>
<path d="M228.84,406.50 L233.56,414.38 L224.12,414.38Z" fill="#6aa646"/>
<rect x="267.4" y="352.5" width="1.3" height="100" fill="#222"/>
<rect x="268.0" y="448.95000000000005" width="89.80000000000001" height="1.3" fill="#222"/>
<rect x="265.0" y="354.75" width="3" height="0.9" fill="#222"/>
<text x="261.50" y="358.20" font-size="8.70" font-weight="normal" font-style="normal" fill="#333" text-anchor="end" textLength="9.50" lengthAdjust="spacingAndGlyphs" stroke="#333" stroke-width="0.155" >80</text>
<rect x="265.0" y="378.65000000000003" width="3" height="0.9" fill="#222"/>
<text x="261.50" y="382.10" font-size="8.70" font-weight="normal" font-style="normal" fill="#333" text-anchor="end" textLength="9.50" lengthAdjust="spacingAndGlyphs" stroke="#333" stroke-width="0.155" >60</text>
<rect x="265.0" y="402.35" width="3" height="0.9" fill="#222"/>
<text x="261.50" y="405.80" font-size="8.70" font-weight="normal" font-style="normal" fill="#333" text-anchor="end" textLength="9.50" lengthAdjust="spacingAndGlyphs" stroke="#333" stroke-width="0.155" >40</text>
<rect x="265.0" y="425.85" width="3" height="0.9" fill="#222"/>
<text x="261.50" y="429.30" font-size="8.70" font-weight="normal" font-style="normal" fill="#333" text-anchor="end" textLength="9.50" lengthAdjust="spacingAndGlyphs" stroke="#333" stroke-width="0.155" >20</text>
<rect x="265.0" y="449.15000000000003" width="3" height="0.9" fill="#222"/>
<text x="261.50" y="452.60" font-size="8.70" font-weight="normal" font-style="normal" fill="#333" text-anchor="end" textLength="4.80" lengthAdjust="spacingAndGlyphs" stroke="#333" stroke-width="0.155" >0</text>
<rect x="267.75" y="449.6" width="0.9" height="3.2" fill="#222"/>
<rect x="282.04" y="449.6" width="0.9" height="3.2" fill="#222"/>
<rect x="296.42" y="449.6" width="0.9" height="3.2" fill="#222"/>
<rect x="310.80" y="449.6" width="0.9" height="3.2" fill="#222"/>
<rect x="325.18" y="449.6" width="0.9" height="3.2" fill="#222"/>
<rect x="339.56" y="449.6" width="0.9" height="3.2" fill="#222"/>
<rect x="353.95" y="449.6" width="0.9" height="3.2" fill="#222"/>
<text x="275.30" y="463.80" font-size="8.80" font-weight="normal" font-style="normal" fill="#333" text-anchor="middle" stroke="#333" stroke-width="0.156" >1</text>
<text x="289.68" y="463.80" font-size="8.80" font-weight="normal" font-style="normal" fill="#333" text-anchor="middle" stroke="#333" stroke-width="0.156" >2</text>
<text x="304.06" y="463.80" font-size="8.80" font-weight="normal" font-style="normal" fill="#333" text-anchor="middle" stroke="#333" stroke-width="0.156" >3</text>
<text x="318.44" y="463.80" font-size="8.80" font-weight="normal" font-style="normal" fill="#333" text-anchor="middle" stroke="#333" stroke-width="0.156" >4</text>
<text x="332.82" y="463.80" font-size="8.80" font-weight="normal" font-style="normal" fill="#333" text-anchor="middle" stroke="#333" stroke-width="0.156" >5</text>
<text x="347.20" y="463.80" font-size="8.80" font-weight="normal" font-style="normal" fill="#333" text-anchor="middle" stroke="#333" stroke-width="0.156" >6</text>
<text x="299.60" y="477.60" font-size="10.00" font-weight="normal" font-style="normal" fill="#333" text-anchor="start" textLength="27.50" lengthAdjust="spacingAndGlyphs" stroke="#333" stroke-width="0.178" >Months</text>
<text x="249.60" y="345.00" font-size="8.20" font-weight="normal" font-style="normal" fill="#333" text-anchor="start" textLength="11.90" lengthAdjust="spacingAndGlyphs" stroke="#333" stroke-width="0.146" >(%)</text>
<text x="280.00" y="346.20" font-size="10.40" font-weight="normal" font-style="normal" fill="#222" text-anchor="start" textLength="66.10" lengthAdjust="spacingAndGlyphs" stroke="#222" stroke-width="0.185" >2nd recipients</text>
<path d="M289.68,406.50 V414.00 M287.98,406.50 H291.38 M287.98,414.00 H291.38" stroke="#111" stroke-width="0.9" fill="none"/>
<path d="M318.44,407.70 V414.00 M316.74,407.70 H320.14 M316.74,414.00 H320.14" stroke="#111" stroke-width="0.9" fill="none"/>
<path d="M332.82,402.60 V412.00 M331.12,402.60 H334.52 M331.12,412.00 H334.52" stroke="#111" stroke-width="0.9" fill="none"/>
<path d="M347.20,400.30 V410.50 M345.50,400.30 H348.90 M345.50,410.50 H348.90" stroke="#111" stroke-width="0.9" fill="none"/>
<polyline points="275.30,414.00 289.68,417.60 304.06,413.60 318.44,414.00 332.82,411.90 347.20,398.50" fill="none" stroke="#a40028" stroke-width="1.6"/>
<polyline points="275.30,383.40 289.68,376.40 304.06,372.80 318.44,369.00 332.82,365.40 347.20,358.60" fill="none" stroke="#2e4b7e" stroke-width="1.6"/>
<polyline points="275.30,414.50 289.68,410.40 304.06,411.50 318.44,411.90 332.82,408.00 347.20,404.50" fill="none" stroke="#6aa646" stroke-width="1.6"/>
<path d="M275.30,409.90 L279.40,414.00 L275.30,418.10 L271.20,414.00Z" fill="#a40028"/>
<path d="M289.68,413.50 L293.78,417.60 L289.68,421.70 L285.58,417.60Z" fill="#a40028"/>
<path d="M304.06,409.50 L308.16,413.60 L304.06,417.70 L299.96,413.60Z" fill="#a40028"/>
<path d="M318.44,409.90 L322.54,414.00 L318.44,418.10 L314.34,414.00Z" fill="#a40028"/>
<path d="M332.82,407.80 L336.92,411.90 L332.82,416.00 L328.72,411.90Z" fill="#a40028"/>
<path d="M347.20,394.40 L351.30,398.50 L347.20,402.60 L343.10,398.50Z" fill="#a40028"/>
<rect x="271.40" y="379.50" width="7.80" height="7.80" fill="#2e4b7e"/>
<rect x="285.78" y="372.50" width="7.80" height="7.80" fill="#2e4b7e"/>
<rect x="300.16" y="368.90" width="7.80" height="7.80" fill="#2e4b7e"/>
<rect x="314.54" y="365.10" width="7.80" height="7.80" fill="#2e4b7e"/>
<rect x="328.92" y="361.50" width="7.80" height="7.80" fill="#2e4b7e"/>
<rect x="343.30" y="354.70" width="7.80" height="7.80" fill="#2e4b7e"/>
<path d="M275.30,410.00 L280.03,417.88 L270.57,417.88Z" fill="#6aa646"/>
<path d="M289.68,405.90 L294.41,413.77 L284.95,413.77Z" fill="#6aa646"/>
<path d="M304.06,407.00 L308.79,414.88 L299.33,414.88Z" fill="#6aa646"/>
<path d="M318.44,407.40 L323.17,415.27 L313.71,415.27Z" fill="#6aa646"/>
<path d="M332.82,403.50 L337.55,411.38 L328.09,411.38Z" fill="#6aa646"/>
<path d="M347.20,400.00 L351.93,407.88 L342.48,407.88Z" fill="#6aa646"/>
<rect x="372.7" y="357.95" width="17.7" height="1.7" fill="#a40028"/>
<path d="M381.70,356.60 L383.90,358.80 L381.70,361.00 L379.50,358.80Z" fill="#a40028"/>
<text x="394.20" y="361.90" font-size="8.80" font-weight="normal" font-style="italic" fill="#333" text-anchor="start" textLength="47.30" lengthAdjust="spacingAndGlyphs" stroke="#333" stroke-width="0.156" >Mx1-cre;Calr</text>
<text x="441.80" y="357.80" font-size="4.00" font-weight="normal" font-style="normal" fill="#555" text-anchor="start" textLength="7.00" lengthAdjust="spacingAndGlyphs" stroke="#555" stroke-width="0.071" >+/+</text>
<rect x="372.7" y="371.04999999999995" width="17.7" height="1.7" fill="#2e4b7e"/>
<rect x="379.70" y="369.90" width="4.00" height="4.00" fill="#2e4b7e"/>
<text x="394.20" y="375.00" font-size="8.80" font-weight="normal" font-style="italic" fill="#333" text-anchor="start" textLength="47.30" lengthAdjust="spacingAndGlyphs" stroke="#333" stroke-width="0.156" >Mx1-cre;Calr</text>
<text x="441.80" y="370.90" font-size="4.00" font-weight="normal" font-style="normal" fill="#555" text-anchor="start" textLength="7.00" lengthAdjust="spacingAndGlyphs" stroke="#555" stroke-width="0.071" >+/-</text>
<rect x="372.7" y="384.15" width="17.7" height="1.7" fill="#6aa646"/>
<path d="M381.70,382.60 L384.22,386.80 L379.18,386.80Z" fill="#6aa646"/>
<text x="394.20" y="388.10" font-size="8.80" font-weight="normal" font-style="italic" fill="#333" text-anchor="start" textLength="47.30" lengthAdjust="spacingAndGlyphs" stroke="#333" stroke-width="0.156" >Mx1-cre;Calr</text>
<text x="441.80" y="384.00" font-size="4.00" font-weight="normal" font-style="normal" fill="#555" text-anchor="start" textLength="7.00" lengthAdjust="spacingAndGlyphs" stroke="#555" stroke-width="0.071" >f/-</text>
<text x="77.80" y="500.70" font-size="8.2" font-style="italic" fill="#333" textLength="146.60" lengthAdjust="spacingAndGlyphs">Mx1-cre;Calr <tspan font-size="5" dy="-2.6">+/-</tspan><tspan dy="2.6"> vs Mx1-cre;Calr </tspan><tspan font-size="5" dy="-2.6">+/+</tspan><tspan dy="2.6"> : P**</tspan></text>
<text x="77.80" y="509.90" font-size="8.2" font-style="italic" fill="#333" textLength="144.50" lengthAdjust="spacingAndGlyphs">Mx1-cre;Calr <tspan font-size="5" dy="-2.6">f/-</tspan><tspan dy="2.6"> vs Mx1-cre;Calr </tspan><tspan font-size="5" dy="-2.6">+/+</tspan><tspan dy="2.6"> : P**</tspan></text>
<text x="268.70" y="501.00" font-size="8.2" font-style="italic" fill="#333" textLength="146.70" lengthAdjust="spacingAndGlyphs">Mx1-cre;Calr <tspan font-size="5" dy="-2.6">+/-</tspan><tspan dy="2.6"> vs Mx1-cre;Calr </tspan><tspan font-size="5" dy="-2.6">+/+</tspan><tspan dy="2.6"> : P**</tspan></text>
<text x="268.70" y="510.10" font-size="8.2" font-style="italic" fill="#333" textLength="145.30" lengthAdjust="spacingAndGlyphs">Mx1-cre;Calr <tspan font-size="5" dy="-2.6">f/-</tspan><tspan dy="2.6"> vs Mx1-cre;Calr </tspan><tspan font-size="5" dy="-2.6">+/+</tspan><tspan dy="2.6"> : n.s.</tspan></text>
<text x="7.80" y="539.70" font-size="11.80" font-weight="bold" font-style="normal" fill="#111" text-anchor="start" textLength="9.20" lengthAdjust="spacingAndGlyphs" >D</text>
<text x="20.80" y="592.80" font-size="9.60" font-weight="normal" font-style="normal" fill="#333" text-anchor="start" textLength="44.60" lengthAdjust="spacingAndGlyphs" stroke="#333" stroke-width="0.171" >E2F targets</text>
<text x="105.40" y="550.60" font-size="5.00" font-weight="normal" font-style="normal" fill="#333" text-anchor="start" textLength="93.50" lengthAdjust="spacingAndGlyphs" stroke="#333" stroke-width="0.089" >Enrichment plot: HALLMARK_E2F_TARGETS</text>
<text transform="translate(81.00,576.70) rotate(-90)" x="0" y="0" font-size="6.60" fill="#444" text-anchor="middle" textLength="53.20" lengthAdjust="spacingAndGlyphs">Enrichment score (ES)</text>
<rect x="97.8" y="553.9" width="108.00000000000001" height="71.70000000000005" fill="#fff"/>
<rect x="98.8" y="555.95" width="106.00" height="0.5" fill="#f0f0f0"/>
<rect x="95.60" y="555.85" width="2.2" height="0.7" fill="#333"/>
<text x="95.00" y="558.00" font-size="5.40" font-weight="normal" font-style="normal" fill="#666" text-anchor="end" textLength="10.00" lengthAdjust="spacingAndGlyphs" stroke="#666" stroke-width="0.096" >0.40</text>
<rect x="98.8" y="561.24" width="106.00" height="0.5" fill="#f0f0f0"/>
<rect x="95.60" y="561.14" width="2.2" height="0.7" fill="#333"/>
<text x="95.00" y="563.29" font-size="5.40" font-weight="normal" font-style="normal" fill="#666" text-anchor="end" textLength="10.00" lengthAdjust="spacingAndGlyphs" stroke="#666" stroke-width="0.096" >0.35</text>
<rect x="98.8" y="566.53" width="106.00" height="0.5" fill="#f0f0f0"/>
<rect x="95.60" y="566.43" width="2.2" height="0.7" fill="#333"/>
<text x="95.00" y="568.58" font-size="5.40" font-weight="normal" font-style="normal" fill="#666" text-anchor="end" textLength="10.00" lengthAdjust="spacingAndGlyphs" stroke="#666" stroke-width="0.096" >0.30</text>
<rect x="98.8" y="571.81" width="106.00" height="0.5" fill="#f0f0f0"/>
<rect x="95.60" y="571.71" width="2.2" height="0.7" fill="#333"/>
<text x="95.00" y="573.86" font-size="5.40" font-weight="normal" font-style="normal" fill="#666" text-anchor="end" textLength="10.00" lengthAdjust="spacingAndGlyphs" stroke="#666" stroke-width="0.096" >0.25</text>
<rect x="98.8" y="577.10" width="106.00" height="0.5" fill="#f0f0f0"/>
<rect x="95.60" y="577.00" width="2.2" height="0.7" fill="#333"/>
<text x="95.00" y="579.15" font-size="5.40" font-weight="normal" font-style="normal" fill="#666" text-anchor="end" textLength="10.00" lengthAdjust="spacingAndGlyphs" stroke="#666" stroke-width="0.096" >0.20</text>
<rect x="98.8" y="582.39" width="106.00" height="0.5" fill="#f0f0f0"/>
<rect x="95.60" y="582.29" width="2.2" height="0.7" fill="#333"/>
<text x="95.00" y="584.44" font-size="5.40" font-weight="normal" font-style="normal" fill="#666" text-anchor="end" textLength="10.00" lengthAdjust="spacingAndGlyphs" stroke="#666" stroke-width="0.096" >0.15</text>
<rect x="98.8" y="587.67" width="106.00" height="0.5" fill="#f0f0f0"/>
<rect x="95.60" y="587.57" width="2.2" height="0.7" fill="#333"/>
<text x="95.00" y="589.72" font-size="5.40" font-weight="normal" font-style="normal" fill="#666" text-anchor="end" textLength="10.00" lengthAdjust="spacingAndGlyphs" stroke="#666" stroke-width="0.096" >0.10</text>
<rect x="98.8" y="592.96" width="106.00" height="0.5" fill="#f0f0f0"/>
<rect x="95.60" y="592.86" width="2.2" height="0.7" fill="#333"/>
<text x="95.00" y="595.01" font-size="5.40" font-weight="normal" font-style="normal" fill="#666" text-anchor="end" textLength="10.00" lengthAdjust="spacingAndGlyphs" stroke="#666" stroke-width="0.096" >0.05</text>
<rect x="98.8" y="598.25" width="106.00" height="0.5" fill="#f0f0f0"/>
<rect x="95.60" y="598.15" width="2.2" height="0.7" fill="#333"/>
<text x="95.00" y="600.30" font-size="5.40" font-weight="normal" font-style="normal" fill="#666" text-anchor="end" textLength="10.00" lengthAdjust="spacingAndGlyphs" stroke="#666" stroke-width="0.096" >0.00</text>
<rect x="117.55" y="554.9" width="0.5" height="46.40" fill="#ececec"/>
<rect x="136.65" y="554.9" width="0.5" height="46.40" fill="#ececec"/>
<rect x="155.75" y="554.9" width="0.5" height="46.40" fill="#ececec"/>
<rect x="174.85" y="554.9" width="0.5" height="46.40" fill="#ececec"/>
<rect x="193.95" y="554.9" width="0.5" height="46.40" fill="#ececec"/>
<rect x="98.8" y="599.00" width="106.00" height="0.8" fill="#d8d8d8"/>
<rect x="98.8" y="601.00" width="106.00" height="0.6" fill="#e4e4e4"/>
<rect x="100.00" y="602.9" width="0.70" height="15.70" fill="#5c5c5c"/>
<rect x="101.20" y="602.9" width="0.90" height="15.70" fill="#545454"/>
<rect x="103.00" y="602.9" width="0.50" height="15.70" fill="#272727"/>
<rect x="103.80" y="602.9" width="0.50" height="15.70" fill="#606060"/>
<rect x="104.60" y="602.9" width="0.70" height="15.70" fill="#3b3b3b"/>
<rect x="105.30" y="602.9" width="0.70" height="15.70" fill="#202020"/>
<rect x="106.30" y="602.9" width="1.10" height="15.70" fill="#b0b0b0"/>
<rect x="107.90" y="602.9" width="1.10" height="15.70" fill="#767676"/>
<rect x="109.00" y="602.9" width="0.50" height="15.70" fill="#303030"/>
<rect x="110.00" y="602.9" width="0.70" height="15.70" fill="#aaaaaa"/>
<rect x="110.70" y="602.9" width="0.70" height="15.70" fill="#b4b4b4"/>
<rect x="111.90" y="602.9" width="1.10" height="15.70" fill="#2d2d2d"/>
<rect x="113.00" y="602.9" width="1.40" height="15.70" fill="#313131"/>
<rect x="115.30" y="602.9" width="0.90" height="15.70" fill="#717171"/>
<rect x="117.10" y="602.9" width="0.90" height="15.70" fill="#747474"/>
<rect x="118.50" y="602.9" width="1.10" height="15.70" fill="#a2a2a2"/>
<rect x="119.90" y="602.9" width="1.10" height="15.70" fill="#373737"/>
<rect x="121.50" y="602.9" width="1.40" height="15.70" fill="#b6b6b6"/>
<rect x="122.90" y="602.9" width="0.50" height="15.70" fill="#6f6f6f"/>
<rect x="123.40" y="602.9" width="0.50" height="15.70" fill="#a5a5a5"/>
<rect x="123.90" y="602.9" width="1.40" height="15.70" fill="#bdbdbd"/>
<rect x="126.20" y="602.9" width="1.40" height="15.70" fill="#393939"/>
<rect x="128.50" y="602.9" width="0.90" height="15.70" fill="#0a0a0a"/>
<rect x="129.40" y="602.9" width="1.10" height="15.70" fill="#2b2b2b"/>
<rect x="130.50" y="602.9" width="1.40" height="15.70" fill="#222222"/>
<rect x="131.90" y="602.9" width="1.10" height="15.70" fill="#595959"/>
<rect x="133.90" y="602.9" width="1.10" height="15.70" fill="#9a9a9a"/>
<rect x="135.50" y="602.9" width="0.70" height="15.70" fill="#282828"/>
<rect x="136.20" y="602.9" width="0.70" height="15.70" fill="#aaaaaa"/>
<rect x="136.90" y="602.9" width="0.50" height="15.70" fill="#333333"/>
<rect x="137.40" y="602.9" width="0.50" height="15.70" fill="#363636"/>
<rect x="138.40" y="602.9" width="0.50" height="15.70" fill="#828282"/>
<rect x="139.40" y="602.9" width="0.90" height="15.70" fill="#898989"/>
<rect x="140.30" y="602.9" width="1.40" height="15.70" fill="#666666"/>
<rect x="142.20" y="602.9" width="0.40" height="15.70" fill="#cacaca"/>
<rect x="154.35" y="602.9" width="0.7" height="15.70" fill="#444"/>
<rect x="162.50" y="602.9" width="1.40" height="15.70" fill="#232323"/>
<rect x="164.20" y="602.9" width="0.50" height="15.70" fill="#0d0d0d"/>
<rect x="165.20" y="602.9" width="0.90" height="15.70" fill="#3c3c3c"/>
<rect x="166.40" y="602.9" width="0.50" height="15.70" fill="#bbbbbb"/>
<rect x="166.90" y="602.9" width="1.10" height="15.70" fill="#0f0f0f"/>
<rect x="168.00" y="602.9" width="0.90" height="15.70" fill="#484848"/>
<rect x="168.90" y="602.9" width="1.40" height="15.70" fill="#353535"/>
<rect x="170.80" y="602.9" width="0.50" height="15.70" fill="#5d5d5d"/>
<rect x="171.30" y="602.9" width="0.50" height="15.70" fill="#737373"/>
<rect x="172.70" y="602.9" width="0.70" height="15.70" fill="#363636"/>
<rect x="173.40" y="602.9" width="0.50" height="15.70" fill="#868686"/>
<rect x="174.40" y="602.9" width="0.70" height="15.70" fill="#383838"/>
<rect x="175.60" y="602.9" width="0.70" height="15.70" fill="#141414"/>
<rect x="177.20" y="602.9" width="1.40" height="15.70" fill="#686868"/>
<rect x="178.60" y="602.9" width="1.10" height="15.70" fill="#575757"/>
<rect x="180.20" y="602.9" width="1.40" height="15.70" fill="#d6d6d6"/>
<rect x="181.60" y="602.9" width="0.90" height="15.70" fill="#111111"/>
<rect x="183.40" y="602.9" width="1.40" height="15.70" fill="#232323"/>
<rect x="185.30" y="602.9" width="1.10" height="15.70" fill="#515151"/>
<rect x="186.40" y="602.9" width="0.50" height="15.70" fill="#cbcbcb"/>
<rect x="186.90" y="602.9" width="1.40" height="15.70" fill="#101010"/>
<rect x="188.30" y="602.9" width="0.90" height="15.70" fill="#525252"/>
<rect x="190.10" y="602.9" width="1.40" height="15.70" fill="#a8a8a8"/>
<rect x="191.50" y="602.9" width="1.40" height="15.70" fill="#5b5b5b"/>
<rect x="193.20" y="602.9" width="1.40" height="15.70" fill="#383838"/>
<rect x="194.60" y="602.9" width="1.10" height="15.70" fill="#a4a4a4"/>
<rect x="196.20" y="602.9" width="0.90" height="15.70" fill="#3b3b3b"/>
<rect x="197.40" y="602.9" width="0.70" height="15.70" fill="#0a0a0a"/>
<rect x="198.10" y="602.9" width="0.90" height="15.70" fill="#0f0f0f"/>
<rect x="98.80" y="618.9" width="5.19" height="3.80" fill="#ee2a30"/>
<rect x="103.94" y="618.9" width="5.19" height="3.80" fill="#e8323a"/>
<rect x="109.09" y="618.9" width="5.19" height="3.80" fill="#ec3a40"/>
<rect x="114.23" y="618.9" width="5.19" height="3.80" fill="#e4363e"/>
<rect x="119.37" y="618.9" width="5.19" height="3.80" fill="#e8444a"/>
<rect x="124.51" y="618.9" width="5.19" height="3.80" fill="#e85860"/>
<rect x="129.66" y="618.9" width="5.19" height="3.80" fill="#ec6a70"/>
<rect x="134.80" y="618.9" width="7.12" height="3.80" fill="#f0a8cc"/>
<rect x="141.88" y="618.9" width="7.12" height="3.80" fill="#f6b6da"/>
<rect x="148.95" y="618.9" width="7.12" height="3.80" fill="#f6b8dc"/>
<rect x="156.03" y="618.9" width="7.12" height="3.80" fill="#f4b4da"/>
<rect x="163.10" y="618.9" width="5.15" height="3.80" fill="#c8c8f2"/>
<rect x="168.20" y="618.9" width="5.15" height="3.80" fill="#c4c4ee"/>
<rect x="173.30" y="618.9" width="5.15" height="3.80" fill="#bcbcee"/>
<rect x="178.40" y="618.9" width="5.15" height="3.80" fill="#c0c0f0"/>
<rect x="183.50" y="618.9" width="3.51" height="3.80" fill="#6a6ae8"/>
<rect x="186.96" y="618.9" width="3.51" height="3.80" fill="#5a5ae6"/>
<rect x="190.42" y="618.9" width="3.51" height="3.80" fill="#4a4ae0"/>
<rect x="193.88" y="618.9" width="3.51" height="3.80" fill="#4040dc"/>
<rect x="197.34" y="618.9" width="3.51" height="3.80" fill="#1c10c8"/>
<rect x="100.80" y="623.70" width="30.24" height="0.7" fill="#f6b8b8"/>
<polyline points="98.20,593.50 100.00,594.80 101.80,591.50 103.00,585.00 104.20,576.00 105.60,571.90 107.30,568.50 109.00,565.00 110.80,563.30 111.90,561.50 113.00,562.10 114.80,560.40 116.00,558.00 117.70,556.90 119.40,557.16 121.10,557.50 122.85,557.66 124.60,556.90 126.30,556.88 128.00,556.30 129.57,556.52 131.13,557.07 132.70,557.50 134.40,558.34 136.10,559.20 137.55,560.90 139.00,561.71 140.45,562.66 141.90,563.80 143.25,565.04 144.60,566.99 145.95,568.43 147.30,570.31 148.65,570.99 150.00,573.00 151.25,573.50 152.50,575.27 153.75,575.87 155.00,576.46 156.25,577.61 157.50,577.79 158.75,578.97 160.00,580.00 161.25,581.22 162.50,583.03 163.75,583.84 165.00,585.52 166.25,587.63 167.50,588.55 168.75,590.21 170.00,591.50 171.25,592.04 172.50,592.59 173.75,593.87 175.00,594.50 176.35,595.23 177.70,595.18 179.05,595.78 180.40,596.70 181.70,595.76 183.00,595.00 184.30,595.11 185.60,596.20 186.90,595.92 188.20,595.40 189.63,595.74 191.07,596.12 192.50,597.10 193.93,597.20 195.37,598.75 196.80,598.80 198.50,598.00 200.80,599.20" fill="none" stroke="#10f00a" stroke-width="1.45" stroke-linejoin="round"/>
<text x="167.20" y="562.60" font-size="7.20" font-weight="normal" font-style="normal" fill="#2a2a2a" text-anchor="start" textLength="35.10" lengthAdjust="spacingAndGlyphs" stroke="#2a2a2a" stroke-width="0.128" >NES = 1.43</text>
<text x="167.20" y="570.75" font-size="7.20" font-weight="normal" font-style="normal" fill="#2a2a2a" text-anchor="start" textLength="33.70" lengthAdjust="spacingAndGlyphs" stroke="#2a2a2a" stroke-width="0.128" >P = 0.0015</text>
<text x="167.20" y="578.90" font-size="7.20" font-weight="normal" font-style="normal" fill="#2a2a2a" text-anchor="start" textLength="35.10" lengthAdjust="spacingAndGlyphs" stroke="#2a2a2a" stroke-width="0.128" >FDR = 0.13</text>
<rect x="97.8" y="553.9" width="108.00000000000001" height="71.70000000000005" fill="none" stroke="#3a3a3a" stroke-width="1.5"/>
<text x="254.70" y="550.50" font-size="5.00" font-weight="normal" font-style="normal" fill="#333" text-anchor="start" textLength="93.20" lengthAdjust="spacingAndGlyphs" stroke="#333" stroke-width="0.089" >Enrichment plot: HALLMARK_E2F_TARGETS</text>
<text transform="translate(231.40,576.60) rotate(-90)" x="0" y="0" font-size="6.60" fill="#444" text-anchor="middle" textLength="53.30" lengthAdjust="spacingAndGlyphs">Enrichment score (ES)</text>
<rect x="248.3" y="553.5" width="106.30000000000001" height="71.5" fill="#fff"/>
<rect x="249.3" y="554.55" width="104.30" height="0.5" fill="#f0f0f0"/>
<rect x="246.10" y="554.45" width="2.2" height="0.7" fill="#333"/>
<text x="245.50" y="556.60" font-size="5.40" font-weight="normal" font-style="normal" fill="#666" text-anchor="end" textLength="10.10" lengthAdjust="spacingAndGlyphs" stroke="#666" stroke-width="0.096" >0.45</text>
<rect x="249.3" y="559.34" width="104.30" height="0.5" fill="#f0f0f0"/>
<rect x="246.10" y="559.24" width="2.2" height="0.7" fill="#333"/>
<text x="245.50" y="561.39" font-size="5.40" font-weight="normal" font-style="normal" fill="#666" text-anchor="end" textLength="10.10" lengthAdjust="spacingAndGlyphs" stroke="#666" stroke-width="0.096" >0.40</text>
<rect x="249.3" y="564.13" width="104.30" height="0.5" fill="#f0f0f0"/>
<rect x="246.10" y="564.03" width="2.2" height="0.7" fill="#333"/>
<text x="245.50" y="566.18" font-size="5.40" font-weight="normal" font-style="normal" fill="#666" text-anchor="end" textLength="10.10" lengthAdjust="spacingAndGlyphs" stroke="#666" stroke-width="0.096" >0.35</text>
<rect x="249.3" y="568.92" width="104.30" height="0.5" fill="#f0f0f0"/>
<rect x="246.10" y="568.82" width="2.2" height="0.7" fill="#333"/>
<text x="245.50" y="570.97" font-size="5.40" font-weight="normal" font-style="normal" fill="#666" text-anchor="end" textLength="10.10" lengthAdjust="spacingAndGlyphs" stroke="#666" stroke-width="0.096" >0.30</text>
<rect x="249.3" y="573.71" width="104.30" height="0.5" fill="#f0f0f0"/>
<rect x="246.10" y="573.61" width="2.2" height="0.7" fill="#333"/>
<text x="245.50" y="575.76" font-size="5.40" font-weight="normal" font-style="normal" fill="#666" text-anchor="end" textLength="10.10" lengthAdjust="spacingAndGlyphs" stroke="#666" stroke-width="0.096" >0.25</text>
<rect x="249.3" y="578.49" width="104.30" height="0.5" fill="#f0f0f0"/>
<rect x="246.10" y="578.39" width="2.2" height="0.7" fill="#333"/>
<text x="245.50" y="580.54" font-size="5.40" font-weight="normal" font-style="normal" fill="#666" text-anchor="end" textLength="10.10" lengthAdjust="spacingAndGlyphs" stroke="#666" stroke-width="0.096" >0.20</text>
<rect x="249.3" y="583.28" width="104.30" height="0.5" fill="#f0f0f0"/>
<rect x="246.10" y="583.18" width="2.2" height="0.7" fill="#333"/>
<text x="245.50" y="585.33" font-size="5.40" font-weight="normal" font-style="normal" fill="#666" text-anchor="end" textLength="10.10" lengthAdjust="spacingAndGlyphs" stroke="#666" stroke-width="0.096" >0.15</text>
<rect x="249.3" y="588.07" width="104.30" height="0.5" fill="#f0f0f0"/>
<rect x="246.10" y="587.97" width="2.2" height="0.7" fill="#333"/>
<text x="245.50" y="590.12" font-size="5.40" font-weight="normal" font-style="normal" fill="#666" text-anchor="end" textLength="10.10" lengthAdjust="spacingAndGlyphs" stroke="#666" stroke-width="0.096" >0.10</text>
<rect x="249.3" y="592.86" width="104.30" height="0.5" fill="#f0f0f0"/>
<rect x="246.10" y="592.76" width="2.2" height="0.7" fill="#333"/>
<text x="245.50" y="594.91" font-size="5.40" font-weight="normal" font-style="normal" fill="#666" text-anchor="end" textLength="10.10" lengthAdjust="spacingAndGlyphs" stroke="#666" stroke-width="0.096" >0.05</text>
<rect x="249.3" y="597.65" width="104.30" height="0.5" fill="#f0f0f0"/>
<rect x="246.10" y="597.55" width="2.2" height="0.7" fill="#333"/>
<text x="245.50" y="599.70" font-size="5.40" font-weight="normal" font-style="normal" fill="#666" text-anchor="end" textLength="10.10" lengthAdjust="spacingAndGlyphs" stroke="#666" stroke-width="0.096" >0.00</text>
<rect x="268.05" y="554.5" width="0.5" height="46.00" fill="#ececec"/>
<rect x="287.15" y="554.5" width="0.5" height="46.00" fill="#ececec"/>
<rect x="306.25" y="554.5" width="0.5" height="46.00" fill="#ececec"/>
<rect x="325.35" y="554.5" width="0.5" height="46.00" fill="#ececec"/>
<rect x="344.45" y="554.5" width="0.5" height="46.00" fill="#ececec"/>
<rect x="249.3" y="597.70" width="104.30" height="0.8" fill="#d8d8d8"/>
<rect x="249.3" y="600.20" width="104.30" height="0.6" fill="#e4e4e4"/>
<rect x="249.90" y="602.2" width="1.40" height="15.60" fill="#c3c3c3"/>
<rect x="251.80" y="602.2" width="0.50" height="15.60" fill="#616161"/>
<rect x="253.20" y="602.2" width="0.70" height="15.60" fill="#d4d4d4"/>
<rect x="253.90" y="602.2" width="0.90" height="15.60" fill="#9f9f9f"/>
<rect x="255.10" y="602.2" width="0.70" height="15.60" fill="#262626"/>
<rect x="256.70" y="602.2" width="0.90" height="15.60" fill="#3c3c3c"/>
<rect x="257.90" y="602.2" width="0.70" height="15.60" fill="#797979"/>
<rect x="259.10" y="602.2" width="0.70" height="15.60" fill="#272727"/>
<rect x="260.10" y="602.2" width="0.70" height="15.60" fill="#313131"/>
<rect x="261.10" y="602.2" width="0.90" height="15.60" fill="#222222"/>
<rect x="262.00" y="602.2" width="1.10" height="15.60" fill="#393939"/>
<rect x="263.60" y="602.2" width="0.50" height="15.60" fill="#b1b1b1"/>
<rect x="265.00" y="602.2" width="0.50" height="15.60" fill="#0b0b0b"/>
<rect x="265.80" y="602.2" width="0.90" height="15.60" fill="#2e2e2e"/>
<rect x="266.70" y="602.2" width="0.50" height="15.60" fill="#696969"/>
<rect x="267.20" y="602.2" width="0.70" height="15.60" fill="#383838"/>
<rect x="268.20" y="602.2" width="1.40" height="15.60" fill="#858585"/>
<rect x="270.50" y="602.2" width="0.90" height="15.60" fill="#adadad"/>
<rect x="272.30" y="602.2" width="0.50" height="15.60" fill="#9e9e9e"/>
<rect x="272.80" y="602.2" width="1.40" height="15.60" fill="#363636"/>
<rect x="274.70" y="602.2" width="0.50" height="15.60" fill="#808080"/>
<rect x="275.20" y="602.2" width="0.70" height="15.60" fill="#afafaf"/>
<rect x="276.80" y="602.2" width="1.10" height="15.60" fill="#a7a7a7"/>
<rect x="277.90" y="602.2" width="0.70" height="15.60" fill="#c1c1c1"/>
<rect x="279.10" y="602.2" width="0.50" height="15.60" fill="#2d2d2d"/>
<rect x="279.90" y="602.2" width="1.10" height="15.60" fill="#1b1b1b"/>
<rect x="281.30" y="602.2" width="0.50" height="15.60" fill="#131313"/>
<rect x="282.10" y="602.2" width="1.10" height="15.60" fill="#111111"/>
<rect x="284.10" y="602.2" width="0.90" height="15.60" fill="#1b1b1b"/>
<rect x="285.00" y="602.2" width="0.50" height="15.60" fill="#232323"/>
<rect x="286.40" y="602.2" width="1.10" height="15.60" fill="#4b4b4b"/>
<rect x="287.80" y="602.2" width="0.70" height="15.60" fill="#d2d2d2"/>
<rect x="288.50" y="602.2" width="1.40" height="15.60" fill="#6e6e6e"/>
<rect x="290.20" y="602.2" width="0.50" height="15.60" fill="#bababa"/>
<rect x="291.00" y="602.2" width="0.90" height="15.60" fill="#c9c9c9"/>
<rect x="291.90" y="602.2" width="0.70" height="15.60" fill="#616161"/>
<rect x="292.60" y="602.2" width="0.50" height="15.60" fill="#111111"/>
<rect x="293.40" y="602.2" width="0.50" height="15.60" fill="#5f5f5f"/>
<rect x="294.20" y="602.2" width="1.20" height="15.60" fill="#8c8c8c"/>
<rect x="309.15" y="602.2" width="0.7" height="15.60" fill="#444"/>
<rect x="318.00" y="602.2" width="0.70" height="15.60" fill="#6e6e6e"/>
<rect x="319.00" y="602.2" width="0.90" height="15.60" fill="#646464"/>
<rect x="320.40" y="602.2" width="0.70" height="15.60" fill="#6c6c6c"/>
<rect x="321.10" y="602.2" width="0.70" height="15.60" fill="#1f1f1f"/>
<rect x="322.30" y="602.2" width="1.10" height="15.60" fill="#686868"/>
<rect x="324.30" y="602.2" width="0.70" height="15.60" fill="#d1d1d1"/>
<rect x="325.90" y="602.2" width="0.50" height="15.60" fill="#262626"/>
<rect x="326.70" y="602.2" width="1.40" height="15.60" fill="#d4d4d4"/>
<rect x="328.10" y="602.2" width="0.50" height="15.60" fill="#686868"/>
<rect x="329.50" y="602.2" width="0.50" height="15.60" fill="#7f7f7f"/>
<rect x="330.30" y="602.2" width="0.50" height="15.60" fill="#585858"/>
<rect x="330.80" y="602.2" width="1.10" height="15.60" fill="#1e1e1e"/>
<rect x="332.40" y="602.2" width="0.90" height="15.60" fill="#969696"/>
<rect x="333.50" y="602.2" width="0.70" height="15.60" fill="#d3d3d3"/>
<rect x="334.70" y="602.2" width="0.70" height="15.60" fill="#cfcfcf"/>
<rect x="335.90" y="602.2" width="1.10" height="15.60" fill="#2a2a2a"/>
<rect x="337.50" y="602.2" width="0.50" height="15.60" fill="#aaaaaa"/>
<rect x="338.90" y="602.2" width="1.40" height="15.60" fill="#cecece"/>
<rect x="341.70" y="602.2" width="0.70" height="15.60" fill="#202020"/>
<rect x="343.80" y="602.2" width="1.40" height="15.60" fill="#e1e1e1"/>
<rect x="345.40" y="602.2" width="0.90" height="15.60" fill="#6c6c6c"/>
<rect x="346.50" y="602.2" width="0.50" height="15.60" fill="#858585"/>
<rect x="347.20" y="602.2" width="0.50" height="15.60" fill="#737373"/>
<rect x="348.20" y="602.2" width="0.80" height="15.60" fill="#c2c2c2"/>
<rect x="249.30" y="617.8" width="5.75" height="4.00" fill="#ee2a30"/>
<rect x="255.00" y="617.8" width="5.75" height="4.00" fill="#e8323a"/>
<rect x="260.70" y="617.8" width="5.75" height="4.00" fill="#ec3a40"/>
<rect x="266.40" y="617.8" width="5.75" height="4.00" fill="#e4363e"/>
<rect x="272.10" y="617.8" width="5.75" height="4.00" fill="#e8444a"/>
<rect x="277.80" y="617.8" width="5.75" height="4.00" fill="#e85860"/>
<rect x="283.50" y="617.8" width="5.75" height="4.00" fill="#ec6a70"/>
<rect x="289.20" y="617.8" width="7.25" height="4.00" fill="#f0a8cc"/>
<rect x="296.40" y="617.8" width="7.25" height="4.00" fill="#f6b6da"/>
<rect x="303.60" y="617.8" width="7.25" height="4.00" fill="#f6b8dc"/>
<rect x="310.80" y="617.8" width="7.25" height="4.00" fill="#f4b4da"/>
<rect x="318.00" y="617.8" width="4.47" height="4.00" fill="#c8c8f2"/>
<rect x="322.43" y="617.8" width="4.47" height="4.00" fill="#c4c4ee"/>
<rect x="326.85" y="617.8" width="4.47" height="4.00" fill="#bcbcee"/>
<rect x="331.27" y="617.8" width="4.47" height="4.00" fill="#c0c0f0"/>
<rect x="335.70" y="617.8" width="2.71" height="4.00" fill="#6a6ae8"/>
<rect x="338.36" y="617.8" width="2.71" height="4.00" fill="#5a5ae6"/>
<rect x="341.02" y="617.8" width="2.71" height="4.00" fill="#4a4ae0"/>
<rect x="343.68" y="617.8" width="2.71" height="4.00" fill="#4040dc"/>
<rect x="346.34" y="617.8" width="2.71" height="4.00" fill="#1c10c8"/>
<rect x="251.30" y="622.80" width="29.76" height="0.7" fill="#f6b8b8"/>
<polyline points="248.90,593.20 251.00,589.80 252.30,585.46 253.60,580.40 254.95,577.80 256.30,574.30 258.00,571.85 259.70,568.90 261.03,566.92 262.37,564.59 263.70,562.20 264.90,561.76 266.10,560.54 267.30,560.04 268.50,559.50 270.15,559.54 271.80,560.20 273.50,557.89 275.20,556.20 276.50,555.69 277.80,555.40 279.90,555.50 281.60,556.27 283.30,556.80 284.85,556.64 286.40,556.50 287.60,556.82 288.80,556.80 290.00,557.50 291.30,558.07 292.60,558.61 293.90,560.51 295.20,560.66 296.50,561.70 298.25,563.30 300.00,566.00 301.30,566.96 302.60,568.09 303.90,569.87 305.20,570.60 306.50,571.64 307.80,573.51 309.10,574.58 310.40,575.50 311.61,577.25 312.82,578.06 314.03,579.46 315.24,580.82 316.45,581.50 317.66,583.28 318.87,583.69 320.08,585.76 321.29,586.33 322.50,587.60 323.80,587.85 325.10,588.18 326.40,588.48 327.70,589.51 329.00,590.58 330.30,590.50 331.00,590.20 332.24,591.48 333.48,591.78 334.72,592.60 335.96,593.32 337.20,594.50 338.43,594.93 339.66,595.63 340.89,596.08 342.11,596.31 343.34,597.64 344.57,597.83 345.80,598.50 347.55,597.79 349.30,596.70" fill="none" stroke="#10f00a" stroke-width="1.45" stroke-linejoin="round"/>
<text x="315.20" y="562.50" font-size="7.20" font-weight="normal" font-style="normal" fill="#2a2a2a" text-anchor="start" textLength="35.30" lengthAdjust="spacingAndGlyphs" stroke="#2a2a2a" stroke-width="0.128" >NES = 1.50</text>
<text x="315.20" y="570.80" font-size="7.20" font-weight="normal" font-style="normal" fill="#2a2a2a" text-anchor="start" textLength="34.00" lengthAdjust="spacingAndGlyphs" stroke="#2a2a2a" stroke-width="0.128" >P = 0.0000</text>
<text x="315.20" y="578.40" font-size="7.20" font-weight="normal" font-style="normal" fill="#2a2a2a" text-anchor="start" textLength="35.30" lengthAdjust="spacingAndGlyphs" stroke="#2a2a2a" stroke-width="0.128" >FDR = 0.09</text>
<rect x="248.3" y="553.5" width="106.30000000000001" height="71.5" fill="none" stroke="#3a3a3a" stroke-width="1.5"/>
<text x="404.00" y="550.50" font-size="5.00" font-weight="normal" font-style="normal" fill="#333" text-anchor="start" textLength="92.30" lengthAdjust="spacingAndGlyphs" stroke="#333" stroke-width="0.089" >Enrichment plot: HALLMARK_E2F_TARGETS</text>
<text transform="translate(378.30,579.50) rotate(-90)" x="0" y="0" font-size="6.60" fill="#444" text-anchor="middle" textLength="53.00" lengthAdjust="spacingAndGlyphs">Enrichment score (ES)</text>
<rect x="396.9" y="553.6" width="105.0" height="71.29999999999995" fill="#fff"/>
<rect x="397.9" y="557.95" width="103.00" height="0.5" fill="#f0f0f0"/>
<rect x="394.70" y="557.85" width="2.2" height="0.7" fill="#333"/>
<text x="394.10" y="560.00" font-size="5.40" font-weight="normal" font-style="normal" fill="#666" text-anchor="end" textLength="8.20" lengthAdjust="spacingAndGlyphs" stroke="#666" stroke-width="0.096" >0.00</text>
<rect x="397.9" y="563.30" width="103.00" height="0.5" fill="#f0f0f0"/>
<rect x="394.70" y="563.20" width="2.2" height="0.7" fill="#333"/>
<text x="394.10" y="565.35" font-size="5.40" font-weight="normal" font-style="normal" fill="#666" text-anchor="end" textLength="10.25" lengthAdjust="spacingAndGlyphs" stroke="#666" stroke-width="0.096" >-0.05</text>
<rect x="397.9" y="568.65" width="103.00" height="0.5" fill="#f0f0f0"/>
<rect x="394.70" y="568.55" width="2.2" height="0.7" fill="#333"/>
<text x="394.10" y="570.70" font-size="5.40" font-weight="normal" font-style="normal" fill="#666" text-anchor="end" textLength="10.25" lengthAdjust="spacingAndGlyphs" stroke="#666" stroke-width="0.096" >-0.10</text>
<rect x="397.9" y="574.00" width="103.00" height="0.5" fill="#f0f0f0"/>
<rect x="394.70" y="573.90" width="2.2" height="0.7" fill="#333"/>
<text x="394.10" y="576.05" font-size="5.40" font-weight="normal" font-style="normal" fill="#666" text-anchor="end" textLength="10.25" lengthAdjust="spacingAndGlyphs" stroke="#666" stroke-width="0.096" >-0.15</text>
<rect x="397.9" y="579.35" width="103.00" height="0.5" fill="#f0f0f0"/>
<rect x="394.70" y="579.25" width="2.2" height="0.7" fill="#333"/>
<text x="394.10" y="581.40" font-size="5.40" font-weight="normal" font-style="normal" fill="#666" text-anchor="end" textLength="10.25" lengthAdjust="spacingAndGlyphs" stroke="#666" stroke-width="0.096" >-0.20</text>
<rect x="397.9" y="584.70" width="103.00" height="0.5" fill="#f0f0f0"/>
<rect x="394.70" y="584.60" width="2.2" height="0.7" fill="#333"/>
<text x="394.10" y="586.75" font-size="5.40" font-weight="normal" font-style="normal" fill="#666" text-anchor="end" textLength="10.25" lengthAdjust="spacingAndGlyphs" stroke="#666" stroke-width="0.096" >-0.25</text>
<rect x="397.9" y="590.05" width="103.00" height="0.5" fill="#f0f0f0"/>
<rect x="394.70" y="589.95" width="2.2" height="0.7" fill="#333"/>
<text x="394.10" y="592.10" font-size="5.40" font-weight="normal" font-style="normal" fill="#666" text-anchor="end" textLength="10.25" lengthAdjust="spacingAndGlyphs" stroke="#666" stroke-width="0.096" >-0.30</text>
<rect x="397.9" y="595.40" width="103.00" height="0.5" fill="#f0f0f0"/>
<rect x="394.70" y="595.30" width="2.2" height="0.7" fill="#333"/>
<text x="394.10" y="597.45" font-size="5.40" font-weight="normal" font-style="normal" fill="#666" text-anchor="end" textLength="10.25" lengthAdjust="spacingAndGlyphs" stroke="#666" stroke-width="0.096" >-0.35</text>
<rect x="397.9" y="600.75" width="103.00" height="0.5" fill="#f0f0f0"/>
<rect x="394.70" y="600.65" width="2.2" height="0.7" fill="#333"/>
<text x="394.10" y="602.80" font-size="5.40" font-weight="normal" font-style="normal" fill="#666" text-anchor="end" textLength="10.25" lengthAdjust="spacingAndGlyphs" stroke="#666" stroke-width="0.096" >-0.40</text>
<rect x="416.65" y="554.6" width="0.5" height="46.90" fill="#ececec"/>
<rect x="435.75" y="554.6" width="0.5" height="46.90" fill="#ececec"/>
<rect x="454.85" y="554.6" width="0.5" height="46.90" fill="#ececec"/>
<rect x="473.95" y="554.6" width="0.5" height="46.90" fill="#ececec"/>
<rect x="493.05" y="554.6" width="0.5" height="46.90" fill="#ececec"/>
<rect x="397.9" y="558.10" width="103.00" height="0.8" fill="#d8d8d8"/>
<rect x="397.9" y="601.20" width="103.00" height="0.6" fill="#e4e4e4"/>
<rect x="399.90" y="601.9" width="0.70" height="15.40" fill="#c0c0c0"/>
<rect x="401.10" y="601.9" width="1.40" height="15.40" fill="#d0d0d0"/>
<rect x="403.00" y="601.9" width="1.10" height="15.40" fill="#7f7f7f"/>
<rect x="404.30" y="601.9" width="1.40" height="15.40" fill="#939393"/>
<rect x="406.20" y="601.9" width="1.10" height="15.40" fill="#848484"/>
<rect x="407.80" y="601.9" width="0.50" height="15.40" fill="#d6d6d6"/>
<rect x="408.80" y="601.9" width="1.40" height="15.40" fill="#cacaca"/>
<rect x="410.70" y="601.9" width="1.40" height="15.40" fill="#838383"/>
<rect x="413.50" y="601.9" width="1.10" height="15.40" fill="#b9b9b9"/>
<rect x="414.80" y="601.9" width="0.90" height="15.40" fill="#707070"/>
<rect x="417.10" y="601.9" width="1.40" height="15.40" fill="#7d7d7d"/>
<rect x="419.00" y="601.9" width="0.70" height="15.40" fill="#686868"/>
<rect x="420.20" y="601.9" width="0.90" height="15.40" fill="#878787"/>
<rect x="422.50" y="601.9" width="0.90" height="15.40" fill="#d2d2d2"/>
<rect x="424.80" y="601.9" width="1.40" height="15.40" fill="#8c8c8c"/>
<rect x="426.70" y="601.9" width="1.10" height="15.40" fill="#717171"/>
<rect x="428.30" y="601.9" width="1.00" height="15.40" fill="#c1c1c1"/>
<rect x="449.20" y="601.9" width="1.10" height="15.40" fill="#282828"/>
<rect x="450.30" y="601.9" width="0.90" height="15.40" fill="#2b2b2b"/>
<rect x="451.70" y="601.9" width="0.90" height="15.40" fill="#151515"/>
<rect x="452.60" y="601.9" width="0.90" height="15.40" fill="#5a5a5a"/>
<rect x="453.50" y="601.9" width="1.40" height="15.40" fill="#131313"/>
<rect x="455.80" y="601.9" width="1.10" height="15.40" fill="#474747"/>
<rect x="456.90" y="601.9" width="0.70" height="15.40" fill="#131313"/>
<rect x="457.60" y="601.9" width="0.50" height="15.40" fill="#969696"/>
<rect x="458.60" y="601.9" width="0.90" height="15.40" fill="#383838"/>
<rect x="460.00" y="601.9" width="1.10" height="15.40" fill="#7d7d7d"/>
<rect x="461.10" y="601.9" width="0.90" height="15.40" fill="#afafaf"/>
<rect x="462.00" y="601.9" width="1.10" height="15.40" fill="#3c3c3c"/>
<rect x="463.60" y="601.9" width="1.40" height="15.40" fill="#b3b3b3"/>
<rect x="465.30" y="601.9" width="0.50" height="15.40" fill="#c7c7c7"/>
<rect x="466.30" y="601.9" width="0.70" height="15.40" fill="#1b1b1b"/>
<rect x="467.50" y="601.9" width="0.70" height="15.40" fill="#252525"/>
<rect x="468.20" y="601.9" width="0.70" height="15.40" fill="#a5a5a5"/>
<rect x="469.40" y="601.9" width="0.50" height="15.40" fill="#b9b9b9"/>
<rect x="469.90" y="601.9" width="0.70" height="15.40" fill="#9d9d9d"/>
<rect x="470.60" y="601.9" width="0.70" height="15.40" fill="#373737"/>
<rect x="472.20" y="601.9" width="0.20" height="15.40" fill="#4f4f4f"/>
<rect x="475.80" y="601.9" width="1.40" height="15.40" fill="#3c3c3c"/>
<rect x="477.70" y="601.9" width="0.70" height="15.40" fill="#979797"/>
<rect x="478.70" y="601.9" width="1.40" height="15.40" fill="#a9a9a9"/>
<rect x="480.60" y="601.9" width="0.70" height="15.40" fill="#3a3a3a"/>
<rect x="482.20" y="601.9" width="0.70" height="15.40" fill="#999999"/>
<rect x="483.20" y="601.9" width="1.40" height="15.40" fill="#5a5a5a"/>
<rect x="485.10" y="601.9" width="0.90" height="15.40" fill="#363636"/>
<rect x="486.00" y="601.9" width="0.90" height="15.40" fill="#505050"/>
<rect x="486.90" y="601.9" width="0.50" height="15.40" fill="#b0b0b0"/>
<rect x="487.40" y="601.9" width="0.50" height="15.40" fill="#787878"/>
<rect x="487.90" y="601.9" width="1.10" height="15.40" fill="#1f1f1f"/>
<rect x="489.50" y="601.9" width="0.90" height="15.40" fill="#262626"/>
<rect x="490.40" y="601.9" width="0.70" height="15.40" fill="#606060"/>
<rect x="491.60" y="601.9" width="0.50" height="15.40" fill="#343434"/>
<rect x="492.40" y="601.9" width="0.90" height="15.40" fill="#515151"/>
<rect x="494.20" y="601.9" width="0.50" height="15.40" fill="#d0d0d0"/>
<rect x="494.70" y="601.9" width="0.50" height="15.40" fill="#999999"/>
<rect x="495.20" y="601.9" width="0.90" height="15.40" fill="#484848"/>
<rect x="496.10" y="601.9" width="1.10" height="15.40" fill="#c8c8c8"/>
<rect x="497.20" y="601.9" width="0.70" height="15.40" fill="#383838"/>
<rect x="397.90" y="617.3" width="3.75" height="4.20" fill="#ee2a30"/>
<rect x="401.60" y="617.3" width="3.75" height="4.20" fill="#e8323a"/>
<rect x="405.30" y="617.3" width="3.75" height="4.20" fill="#ec3a40"/>
<rect x="409.00" y="617.3" width="3.75" height="4.20" fill="#e4363e"/>
<rect x="412.70" y="617.3" width="3.75" height="4.20" fill="#e8444a"/>
<rect x="416.40" y="617.3" width="3.75" height="4.20" fill="#e85860"/>
<rect x="420.10" y="617.3" width="3.75" height="4.20" fill="#ec6a70"/>
<rect x="423.80" y="617.3" width="5.85" height="4.20" fill="#f0a8cc"/>
<rect x="429.60" y="617.3" width="5.85" height="4.20" fill="#f6b6da"/>
<rect x="435.40" y="617.3" width="5.85" height="4.20" fill="#f6b8dc"/>
<rect x="441.20" y="617.3" width="5.85" height="4.20" fill="#f4b4da"/>
<rect x="447.00" y="617.3" width="5.85" height="4.20" fill="#c8c8f2"/>
<rect x="452.80" y="617.3" width="5.85" height="4.20" fill="#c4c4ee"/>
<rect x="458.60" y="617.3" width="5.85" height="4.20" fill="#bcbcee"/>
<rect x="464.40" y="617.3" width="5.85" height="4.20" fill="#c0c0f0"/>
<rect x="470.20" y="617.3" width="5.59" height="4.20" fill="#6a6ae8"/>
<rect x="475.74" y="617.3" width="5.59" height="4.20" fill="#5a5ae6"/>
<rect x="481.28" y="617.3" width="5.59" height="4.20" fill="#4a4ae0"/>
<rect x="486.82" y="617.3" width="5.59" height="4.20" fill="#4040dc"/>
<rect x="492.36" y="617.3" width="5.59" height="4.20" fill="#1c10c8"/>
<rect x="399.90" y="622.50" width="29.40" height="0.7" fill="#f6b8b8"/>
<polyline points="396.90,555.40 398.45,557.53 400.00,558.50 401.27,559.27 402.53,559.13 403.80,559.20 406.20,557.20 408.50,558.50 410.03,558.97 411.57,559.65 413.10,560.80 414.65,560.53 416.20,560.80 417.73,562.35 419.27,563.03 420.80,563.80 422.08,565.47 423.37,565.77 424.65,566.83 425.93,568.11 427.22,569.81 428.50,570.80 429.78,571.87 431.07,573.93 432.35,575.78 433.63,577.34 434.92,578.21 436.20,580.00 437.47,581.28 438.73,582.16 440.00,583.80 441.27,584.60 442.53,586.67 443.80,587.70 445.10,589.02 446.40,589.92 447.70,591.50 450.00,594.60 451.53,596.01 453.07,596.93 454.60,598.50 455.95,598.91 457.30,597.75 458.65,597.92 460.00,598.20 461.38,598.71 462.76,598.56 464.14,598.44 465.52,598.81 466.90,598.80 468.20,598.19 469.50,597.57 470.80,596.60 473.10,595.70 474.65,597.22 476.20,598.20 477.47,596.72 478.73,595.28 480.00,593.80 481.55,591.87 483.10,589.20 484.65,584.03 486.20,580.00 487.70,578.18 489.20,575.40 490.50,572.57 491.80,570.27 493.10,566.90 495.40,567.70 497.70,558.50" fill="none" stroke="#10f00a" stroke-width="1.45" stroke-linejoin="round"/>
<text x="400.80" y="583.40" font-size="7.20" font-weight="normal" font-style="normal" fill="#2a2a2a" text-anchor="start" textLength="36.90" lengthAdjust="spacingAndGlyphs" stroke="#2a2a2a" stroke-width="0.128" >NES = -1.29</text>
<text x="400.80" y="591.50" font-size="7.20" font-weight="normal" font-style="normal" fill="#2a2a2a" text-anchor="start" textLength="29.50" lengthAdjust="spacingAndGlyphs" stroke="#2a2a2a" stroke-width="0.128" >P = 0.043</text>
<text x="400.80" y="599.70" font-size="7.20" font-weight="normal" font-style="normal" fill="#2a2a2a" text-anchor="start" textLength="35.00" lengthAdjust="spacingAndGlyphs" stroke="#2a2a2a" stroke-width="0.128" >FDR = 0.43</text>
<rect x="396.9" y="553.6" width="105.0" height="71.29999999999995" fill="none" stroke="#3a3a3a" stroke-width="1.5"/>
<text x="98.70" y="637.70" font-size="5.00" font-weight="normal" font-style="normal" fill="#333" text-anchor="start" textLength="105.00" lengthAdjust="spacingAndGlyphs" stroke="#333" stroke-width="0.089" >Enrichment plot: HALLMARK_G2M_CHECKPOINT</text>
<text transform="translate(79.90,665.30) rotate(-90)" x="0" y="0" font-size="6.60" fill="#444" text-anchor="middle" textLength="52.50" lengthAdjust="spacingAndGlyphs">Enrichment score (ES)</text>
<rect x="97.7" y="641.6" width="107.60000000000001" height="71.60000000000002" fill="#fff"/>
<rect x="98.7" y="643.45" width="105.60" height="0.5" fill="#f0f0f0"/>
<rect x="95.50" y="643.35" width="2.2" height="0.7" fill="#333"/>
<text x="94.90" y="645.50" font-size="5.40" font-weight="normal" font-style="normal" fill="#666" text-anchor="end" textLength="10.00" lengthAdjust="spacingAndGlyphs" stroke="#666" stroke-width="0.096" >0.45</text>
<rect x="98.7" y="648.16" width="105.60" height="0.5" fill="#f0f0f0"/>
<rect x="95.50" y="648.06" width="2.2" height="0.7" fill="#333"/>
<text x="94.90" y="650.21" font-size="5.40" font-weight="normal" font-style="normal" fill="#666" text-anchor="end" textLength="10.00" lengthAdjust="spacingAndGlyphs" stroke="#666" stroke-width="0.096" >0.40</text>
<rect x="98.7" y="652.87" width="105.60" height="0.5" fill="#f0f0f0"/>
<rect x="95.50" y="652.77" width="2.2" height="0.7" fill="#333"/>
<text x="94.90" y="654.92" font-size="5.40" font-weight="normal" font-style="normal" fill="#666" text-anchor="end" textLength="10.00" lengthAdjust="spacingAndGlyphs" stroke="#666" stroke-width="0.096" >0.35</text>
<rect x="98.7" y="657.58" width="105.60" height="0.5" fill="#f0f0f0"/>
<rect x="95.50" y="657.48" width="2.2" height="0.7" fill="#333"/>
<text x="94.90" y="659.63" font-size="5.40" font-weight="normal" font-style="normal" fill="#666" text-anchor="end" textLength="10.00" lengthAdjust="spacingAndGlyphs" stroke="#666" stroke-width="0.096" >0.30</text>
<rect x="98.7" y="662.29" width="105.60" height="0.5" fill="#f0f0f0"/>
<rect x="95.50" y="662.19" width="2.2" height="0.7" fill="#333"/>
<text x="94.90" y="664.34" font-size="5.40" font-weight="normal" font-style="normal" fill="#666" text-anchor="end" textLength="10.00" lengthAdjust="spacingAndGlyphs" stroke="#666" stroke-width="0.096" >0.25</text>
<rect x="98.7" y="667.01" width="105.60" height="0.5" fill="#f0f0f0"/>
<rect x="95.50" y="666.91" width="2.2" height="0.7" fill="#333"/>
<text x="94.90" y="669.06" font-size="5.40" font-weight="normal" font-style="normal" fill="#666" text-anchor="end" textLength="10.00" lengthAdjust="spacingAndGlyphs" stroke="#666" stroke-width="0.096" >0.20</text>
<rect x="98.7" y="671.72" width="105.60" height="0.5" fill="#f0f0f0"/>
<rect x="95.50" y="671.62" width="2.2" height="0.7" fill="#333"/>
<text x="94.90" y="673.77" font-size="5.40" font-weight="normal" font-style="normal" fill="#666" text-anchor="end" textLength="10.00" lengthAdjust="spacingAndGlyphs" stroke="#666" stroke-width="0.096" >0.15</text>
<rect x="98.7" y="676.43" width="105.60" height="0.5" fill="#f0f0f0"/>
<rect x="95.50" y="676.33" width="2.2" height="0.7" fill="#333"/>
<text x="94.90" y="678.48" font-size="5.40" font-weight="normal" font-style="normal" fill="#666" text-anchor="end" textLength="10.00" lengthAdjust="spacingAndGlyphs" stroke="#666" stroke-width="0.096" >0.10</text>
<rect x="98.7" y="681.14" width="105.60" height="0.5" fill="#f0f0f0"/>
<rect x="95.50" y="681.04" width="2.2" height="0.7" fill="#333"/>
<text x="94.90" y="683.19" font-size="5.40" font-weight="normal" font-style="normal" fill="#666" text-anchor="end" textLength="10.00" lengthAdjust="spacingAndGlyphs" stroke="#666" stroke-width="0.096" >0.05</text>
<rect x="98.7" y="685.85" width="105.60" height="0.5" fill="#f0f0f0"/>
<rect x="95.50" y="685.75" width="2.2" height="0.7" fill="#333"/>
<text x="94.90" y="687.90" font-size="5.40" font-weight="normal" font-style="normal" fill="#666" text-anchor="end" textLength="10.00" lengthAdjust="spacingAndGlyphs" stroke="#666" stroke-width="0.096" >0.00</text>
<rect x="117.45" y="642.6" width="0.5" height="45.90" fill="#ececec"/>
<rect x="136.55" y="642.6" width="0.5" height="45.90" fill="#ececec"/>
<rect x="155.65" y="642.6" width="0.5" height="45.90" fill="#ececec"/>
<rect x="174.75" y="642.6" width="0.5" height="45.90" fill="#ececec"/>
<rect x="193.85" y="642.6" width="0.5" height="45.90" fill="#ececec"/>
<rect x="98.7" y="685.90" width="105.60" height="0.8" fill="#d8d8d8"/>
<rect x="98.7" y="688.20" width="105.60" height="0.6" fill="#e4e4e4"/>
<rect x="99.00" y="690.2" width="1.10" height="16.10" fill="#b1b1b1"/>
<rect x="100.10" y="690.2" width="1.40" height="16.10" fill="#767676"/>
<rect x="102.00" y="690.2" width="0.90" height="16.10" fill="#a5a5a5"/>
<rect x="103.40" y="690.2" width="0.50" height="16.10" fill="#2f2f2f"/>
<rect x="103.90" y="690.2" width="0.50" height="16.10" fill="#101010"/>
<rect x="104.40" y="690.2" width="1.40" height="16.10" fill="#5d5d5d"/>
<rect x="106.30" y="690.2" width="1.40" height="16.10" fill="#7b7b7b"/>
<rect x="107.70" y="690.2" width="1.40" height="16.10" fill="#b5b5b5"/>
<rect x="109.10" y="690.2" width="0.90" height="16.10" fill="#171717"/>
<rect x="110.90" y="690.2" width="1.40" height="16.10" fill="#666666"/>
<rect x="112.60" y="690.2" width="0.70" height="16.10" fill="#d0d0d0"/>
<rect x="114.20" y="690.2" width="0.70" height="16.10" fill="#6b6b6b"/>
<rect x="114.90" y="690.2" width="1.10" height="16.10" fill="#a6a6a6"/>
<rect x="116.50" y="690.2" width="1.40" height="16.10" fill="#101010"/>
<rect x="118.40" y="690.2" width="0.90" height="16.10" fill="#343434"/>
<rect x="119.30" y="690.2" width="0.90" height="16.10" fill="#555555"/>
<rect x="121.10" y="690.2" width="0.50" height="16.10" fill="#6b6b6b"/>
<rect x="121.60" y="690.2" width="1.40" height="16.10" fill="#787878"/>
<rect x="123.50" y="690.2" width="1.10" height="16.10" fill="#0e0e0e"/>
<rect x="124.60" y="690.2" width="1.10" height="16.10" fill="#bfbfbf"/>
<rect x="126.00" y="690.2" width="0.50" height="16.10" fill="#646464"/>
<rect x="127.40" y="690.2" width="0.70" height="16.10" fill="#222222"/>
<rect x="128.10" y="690.2" width="1.40" height="16.10" fill="#343434"/>
<rect x="130.00" y="690.2" width="0.50" height="16.10" fill="#707070"/>
<rect x="130.50" y="690.2" width="1.40" height="16.10" fill="#0c0c0c"/>
<rect x="132.20" y="690.2" width="0.90" height="16.10" fill="#636363"/>
<rect x="134.00" y="690.2" width="0.50" height="16.10" fill="#bdbdbd"/>
<rect x="135.00" y="690.2" width="0.70" height="16.10" fill="#212121"/>
<rect x="136.60" y="690.2" width="1.40" height="16.10" fill="#313131"/>
<rect x="138.50" y="690.2" width="0.90" height="16.10" fill="#333333"/>
<rect x="139.40" y="690.2" width="0.50" height="16.10" fill="#777777"/>
<rect x="139.90" y="690.2" width="1.10" height="16.10" fill="#6b6b6b"/>
<rect x="141.30" y="690.2" width="1.40" height="16.10" fill="#8b8b8b"/>
<rect x="143.00" y="690.2" width="1.10" height="16.10" fill="#2b2b2b"/>
<rect x="156.65" y="690.2" width="0.7" height="16.10" fill="#444"/>
<rect x="162.50" y="690.2" width="1.10" height="16.10" fill="#cfcfcf"/>
<rect x="163.90" y="690.2" width="1.10" height="16.10" fill="#272727"/>
<rect x="165.50" y="690.2" width="1.40" height="16.10" fill="#474747"/>
<rect x="166.90" y="690.2" width="1.10" height="16.10" fill="#c0c0c0"/>
<rect x="168.00" y="690.2" width="0.70" height="16.10" fill="#767676"/>
<rect x="168.70" y="690.2" width="0.90" height="16.10" fill="#8c8c8c"/>
<rect x="170.50" y="690.2" width="0.50" height="16.10" fill="#575757"/>
<rect x="171.00" y="690.2" width="1.40" height="16.10" fill="#3c3c3c"/>
<rect x="172.40" y="690.2" width="1.40" height="16.10" fill="#191919"/>
<rect x="174.10" y="690.2" width="1.10" height="16.10" fill="#a1a1a1"/>
<rect x="175.50" y="690.2" width="1.10" height="16.10" fill="#838383"/>
<rect x="176.90" y="690.2" width="0.70" height="16.10" fill="#333333"/>
<rect x="178.50" y="690.2" width="1.40" height="16.10" fill="#636363"/>
<rect x="180.20" y="690.2" width="0.50" height="16.10" fill="#343434"/>
<rect x="181.60" y="690.2" width="1.40" height="16.10" fill="#282828"/>
<rect x="183.50" y="690.2" width="1.10" height="16.10" fill="#adadad"/>
<rect x="185.50" y="690.2" width="1.10" height="16.10" fill="#505050"/>
<rect x="187.10" y="690.2" width="1.40" height="16.10" fill="#b0b0b0"/>
<rect x="189.00" y="690.2" width="0.90" height="16.10" fill="#8e8e8e"/>
<rect x="191.30" y="690.2" width="0.90" height="16.10" fill="#242424"/>
<rect x="192.40" y="690.2" width="0.90" height="16.10" fill="#dedede"/>
<rect x="194.20" y="690.2" width="0.70" height="16.10" fill="#787878"/>
<rect x="195.80" y="690.2" width="0.90" height="16.10" fill="#373737"/>
<rect x="196.90" y="690.2" width="0.90" height="16.10" fill="#bdbdbd"/>
<rect x="198.30" y="690.2" width="0.70" height="16.10" fill="#939393"/>
<rect x="98.70" y="706.3" width="5.21" height="4.10" fill="#ee2a30"/>
<rect x="103.86" y="706.3" width="5.21" height="4.10" fill="#e8323a"/>
<rect x="109.01" y="706.3" width="5.21" height="4.10" fill="#ec3a40"/>
<rect x="114.17" y="706.3" width="5.21" height="4.10" fill="#e4363e"/>
<rect x="119.33" y="706.3" width="5.21" height="4.10" fill="#e8444a"/>
<rect x="124.49" y="706.3" width="5.21" height="4.10" fill="#e85860"/>
<rect x="129.64" y="706.3" width="5.21" height="4.10" fill="#ec6a70"/>
<rect x="134.80" y="706.3" width="6.97" height="4.10" fill="#f0a8cc"/>
<rect x="141.73" y="706.3" width="6.97" height="4.10" fill="#f6b6da"/>
<rect x="148.65" y="706.3" width="6.97" height="4.10" fill="#f6b8dc"/>
<rect x="155.57" y="706.3" width="6.97" height="4.10" fill="#f4b4da"/>
<rect x="162.50" y="706.3" width="5.30" height="4.10" fill="#c8c8f2"/>
<rect x="167.75" y="706.3" width="5.30" height="4.10" fill="#c4c4ee"/>
<rect x="173.00" y="706.3" width="5.30" height="4.10" fill="#bcbcee"/>
<rect x="178.25" y="706.3" width="5.30" height="4.10" fill="#c0c0f0"/>
<rect x="183.50" y="706.3" width="3.35" height="4.10" fill="#6a6ae8"/>
<rect x="186.80" y="706.3" width="3.35" height="4.10" fill="#5a5ae6"/>
<rect x="190.10" y="706.3" width="3.35" height="4.10" fill="#4a4ae0"/>
<rect x="193.40" y="706.3" width="3.35" height="4.10" fill="#4040dc"/>
<rect x="196.70" y="706.3" width="3.35" height="4.10" fill="#1c10c8"/>
<rect x="100.70" y="711.40" width="30.13" height="0.7" fill="#f6b8b8"/>
<polyline points="97.90,685.50 99.90,678.10 101.90,676.00 103.30,674.70 105.30,661.90 107.30,659.20 109.30,655.20 110.65,654.88 112.00,653.80 113.35,652.74 114.70,651.20 116.00,647.80 118.10,646.40 120.10,643.70 122.10,645.10 123.43,645.50 124.77,645.01 126.10,645.80 127.47,645.70 128.83,646.77 130.20,646.80 131.53,647.03 132.87,648.04 134.20,647.80 135.50,649.16 136.80,650.59 138.10,651.69 139.40,653.16 140.70,653.99 142.00,655.00 143.27,656.39 144.55,656.64 145.82,657.31 147.09,657.99 148.36,659.02 149.64,660.65 150.91,661.24 152.18,661.36 153.45,662.21 154.73,663.59 156.00,664.50 157.30,665.54 158.60,666.31 159.90,666.89 161.20,668.17 162.50,669.90 163.80,670.71 165.10,671.81 166.40,672.14 167.70,673.61 169.00,674.40 170.31,675.01 171.63,676.10 172.94,677.86 174.26,677.94 175.57,679.01 176.89,679.89 178.20,681.20 179.40,681.98 180.60,682.09 181.80,682.20 183.02,683.03 184.23,684.05 185.45,684.31 186.67,685.57 187.88,686.12 189.10,686.50 190.53,686.08 191.95,685.83 193.38,686.02 194.80,685.80 196.27,685.64 197.73,685.95 199.20,685.50 200.60,686.20" fill="none" stroke="#10f00a" stroke-width="1.45" stroke-linejoin="round"/>
<text x="167.10" y="649.40" font-size="7.20" font-weight="normal" font-style="normal" fill="#2a2a2a" text-anchor="start" textLength="35.20" lengthAdjust="spacingAndGlyphs" stroke="#2a2a2a" stroke-width="0.128" >NES = 1.62</text>
<text x="167.10" y="657.70" font-size="7.20" font-weight="normal" font-style="normal" fill="#2a2a2a" text-anchor="start" textLength="33.50" lengthAdjust="spacingAndGlyphs" stroke="#2a2a2a" stroke-width="0.128" >P = 0.0000</text>
<text x="167.10" y="666.00" font-size="7.20" font-weight="normal" font-style="normal" fill="#2a2a2a" text-anchor="start" textLength="35.20" lengthAdjust="spacingAndGlyphs" stroke="#2a2a2a" stroke-width="0.128" >FDR = 0.05</text>
<rect x="97.7" y="641.6" width="107.60000000000001" height="71.60000000000002" fill="none" stroke="#3a3a3a" stroke-width="1.5"/>
<text x="249.00" y="638.10" font-size="5.00" font-weight="normal" font-style="normal" fill="#333" text-anchor="start" textLength="104.40" lengthAdjust="spacingAndGlyphs" stroke="#333" stroke-width="0.089" >Enrichment plot: HALLMARK_G2M_CHECKPOINT</text>
<text transform="translate(230.30,666.00) rotate(-90)" x="0" y="0" font-size="6.60" fill="#444" text-anchor="middle" textLength="53.40" lengthAdjust="spacingAndGlyphs">Enrichment score (ES)</text>
<rect x="247.8" y="641.8" width="107.5" height="71.60000000000002" fill="#fff"/>
<rect x="248.8" y="645.55" width="105.50" height="0.5" fill="#f0f0f0"/>
<rect x="245.60" y="645.45" width="2.2" height="0.7" fill="#333"/>
<text x="245.00" y="647.60" font-size="5.40" font-weight="normal" font-style="normal" fill="#666" text-anchor="end" textLength="10.00" lengthAdjust="spacingAndGlyphs" stroke="#666" stroke-width="0.096" >0.40</text>
<rect x="248.8" y="650.55" width="105.50" height="0.5" fill="#f0f0f0"/>
<rect x="245.60" y="650.45" width="2.2" height="0.7" fill="#333"/>
<text x="245.00" y="652.60" font-size="5.40" font-weight="normal" font-style="normal" fill="#666" text-anchor="end" textLength="10.00" lengthAdjust="spacingAndGlyphs" stroke="#666" stroke-width="0.096" >0.35</text>
<rect x="248.8" y="655.55" width="105.50" height="0.5" fill="#f0f0f0"/>
<rect x="245.60" y="655.45" width="2.2" height="0.7" fill="#333"/>
<text x="245.00" y="657.60" font-size="5.40" font-weight="normal" font-style="normal" fill="#666" text-anchor="end" textLength="10.00" lengthAdjust="spacingAndGlyphs" stroke="#666" stroke-width="0.096" >0.30</text>
<rect x="248.8" y="660.55" width="105.50" height="0.5" fill="#f0f0f0"/>
<rect x="245.60" y="660.45" width="2.2" height="0.7" fill="#333"/>
<text x="245.00" y="662.60" font-size="5.40" font-weight="normal" font-style="normal" fill="#666" text-anchor="end" textLength="10.00" lengthAdjust="spacingAndGlyphs" stroke="#666" stroke-width="0.096" >0.25</text>
<rect x="248.8" y="665.55" width="105.50" height="0.5" fill="#f0f0f0"/>
<rect x="245.60" y="665.45" width="2.2" height="0.7" fill="#333"/>
<text x="245.00" y="667.60" font-size="5.40" font-weight="normal" font-style="normal" fill="#666" text-anchor="end" textLength="10.00" lengthAdjust="spacingAndGlyphs" stroke="#666" stroke-width="0.096" >0.20</text>
<rect x="248.8" y="670.55" width="105.50" height="0.5" fill="#f0f0f0"/>
<rect x="245.60" y="670.45" width="2.2" height="0.7" fill="#333"/>
<text x="245.00" y="672.60" font-size="5.40" font-weight="normal" font-style="normal" fill="#666" text-anchor="end" textLength="10.00" lengthAdjust="spacingAndGlyphs" stroke="#666" stroke-width="0.096" >0.15</text>
<rect x="248.8" y="675.55" width="105.50" height="0.5" fill="#f0f0f0"/>
<rect x="245.60" y="675.45" width="2.2" height="0.7" fill="#333"/>
<text x="245.00" y="677.60" font-size="5.40" font-weight="normal" font-style="normal" fill="#666" text-anchor="end" textLength="10.00" lengthAdjust="spacingAndGlyphs" stroke="#666" stroke-width="0.096" >0.10</text>
<rect x="248.8" y="680.55" width="105.50" height="0.5" fill="#f0f0f0"/>
<rect x="245.60" y="680.45" width="2.2" height="0.7" fill="#333"/>
<text x="245.00" y="682.60" font-size="5.40" font-weight="normal" font-style="normal" fill="#666" text-anchor="end" textLength="10.00" lengthAdjust="spacingAndGlyphs" stroke="#666" stroke-width="0.096" >0.05</text>
<rect x="248.8" y="685.55" width="105.50" height="0.5" fill="#f0f0f0"/>
<rect x="245.60" y="685.45" width="2.2" height="0.7" fill="#333"/>
<text x="245.00" y="687.60" font-size="5.40" font-weight="normal" font-style="normal" fill="#666" text-anchor="end" textLength="10.00" lengthAdjust="spacingAndGlyphs" stroke="#666" stroke-width="0.096" >0.00</text>
<rect x="267.55" y="642.8" width="0.5" height="45.70" fill="#ececec"/>
<rect x="286.65" y="642.8" width="0.5" height="45.70" fill="#ececec"/>
<rect x="305.75" y="642.8" width="0.5" height="45.70" fill="#ececec"/>
<rect x="324.85" y="642.8" width="0.5" height="45.70" fill="#ececec"/>
<rect x="343.95" y="642.8" width="0.5" height="45.70" fill="#ececec"/>
<rect x="248.8" y="685.60" width="105.50" height="0.8" fill="#d8d8d8"/>
<rect x="248.8" y="688.20" width="105.50" height="0.6" fill="#e4e4e4"/>
<rect x="249.40" y="690.6" width="0.50" height="16.30" fill="#b3b3b3"/>
<rect x="250.40" y="690.6" width="0.90" height="16.30" fill="#121212"/>
<rect x="251.30" y="690.6" width="0.70" height="16.30" fill="#131313"/>
<rect x="252.00" y="690.6" width="0.50" height="16.30" fill="#707070"/>
<rect x="252.80" y="690.6" width="0.50" height="16.30" fill="#b6b6b6"/>
<rect x="253.80" y="690.6" width="0.90" height="16.30" fill="#ababab"/>
<rect x="255.00" y="690.6" width="1.10" height="16.30" fill="#262626"/>
<rect x="257.00" y="690.6" width="0.70" height="16.30" fill="#151515"/>
<rect x="258.60" y="690.6" width="0.50" height="16.30" fill="#303030"/>
<rect x="259.10" y="690.6" width="0.70" height="16.30" fill="#242424"/>
<rect x="260.10" y="690.6" width="0.50" height="16.30" fill="#2c2c2c"/>
<rect x="260.60" y="690.6" width="0.50" height="16.30" fill="#343434"/>
<rect x="261.60" y="690.6" width="1.40" height="16.30" fill="#565656"/>
<rect x="263.00" y="690.6" width="0.70" height="16.30" fill="#2b2b2b"/>
<rect x="263.70" y="690.6" width="0.50" height="16.30" fill="#4a4a4a"/>
<rect x="264.20" y="690.6" width="1.10" height="16.30" fill="#313131"/>
<rect x="265.80" y="690.6" width="0.50" height="16.30" fill="#0e0e0e"/>
<rect x="266.30" y="690.6" width="0.70" height="16.30" fill="#b5b5b5"/>
<rect x="267.00" y="690.6" width="0.50" height="16.30" fill="#7b7b7b"/>
<rect x="268.40" y="690.6" width="1.10" height="16.30" fill="#7d7d7d"/>
<rect x="269.80" y="690.6" width="0.50" height="16.30" fill="#999999"/>
<rect x="270.80" y="690.6" width="1.40" height="16.30" fill="#484848"/>
<rect x="273.10" y="690.6" width="0.50" height="16.30" fill="#0b0b0b"/>
<rect x="273.60" y="690.6" width="1.10" height="16.30" fill="#a5a5a5"/>
<rect x="274.70" y="690.6" width="0.70" height="16.30" fill="#515151"/>
<rect x="276.30" y="690.6" width="0.90" height="16.30" fill="#141414"/>
<rect x="277.20" y="690.6" width="0.50" height="16.30" fill="#171717"/>
<rect x="277.70" y="690.6" width="1.10" height="16.30" fill="#151515"/>
<rect x="278.80" y="690.6" width="0.50" height="16.30" fill="#181818"/>
<rect x="279.30" y="690.6" width="1.40" height="16.30" fill="#a0a0a0"/>
<rect x="280.70" y="690.6" width="0.50" height="16.30" fill="#373737"/>
<rect x="281.20" y="690.6" width="1.40" height="16.30" fill="#646464"/>
<rect x="283.10" y="690.6" width="0.70" height="16.30" fill="#474747"/>
<rect x="283.80" y="690.6" width="0.90" height="16.30" fill="#787878"/>
<rect x="284.70" y="690.6" width="1.40" height="16.30" fill="#0c0c0c"/>
<rect x="286.60" y="690.6" width="0.50" height="16.30" fill="#171717"/>
<rect x="287.60" y="690.6" width="1.40" height="16.30" fill="#cecece"/>
<rect x="289.30" y="690.6" width="0.50" height="16.30" fill="#a7a7a7"/>
<rect x="290.70" y="690.6" width="0.90" height="16.30" fill="#2f2f2f"/>
<rect x="291.60" y="690.6" width="1.10" height="16.30" fill="#acacac"/>
<rect x="293.60" y="690.6" width="0.90" height="16.30" fill="#494949"/>
<rect x="294.80" y="690.6" width="0.60" height="16.30" fill="#808080"/>
<rect x="310.65" y="690.6" width="0.7" height="16.30" fill="#444"/>
<rect x="319.10" y="690.6" width="0.70" height="16.30" fill="#292929"/>
<rect x="319.80" y="690.6" width="0.90" height="16.30" fill="#4d4d4d"/>
<rect x="321.00" y="690.6" width="0.50" height="16.30" fill="#1f1f1f"/>
<rect x="321.50" y="690.6" width="0.70" height="16.30" fill="#d4d4d4"/>
<rect x="322.20" y="690.6" width="0.90" height="16.30" fill="#363636"/>
<rect x="323.10" y="690.6" width="0.90" height="16.30" fill="#1e1e1e"/>
<rect x="324.30" y="690.6" width="1.10" height="16.30" fill="#7c7c7c"/>
<rect x="325.80" y="690.6" width="0.70" height="16.30" fill="#b8b8b8"/>
<rect x="327.00" y="690.6" width="1.40" height="16.30" fill="#6a6a6a"/>
<rect x="329.30" y="690.6" width="0.70" height="16.30" fill="#c5c5c5"/>
<rect x="330.90" y="690.6" width="1.40" height="16.30" fill="#b8b8b8"/>
<rect x="332.80" y="690.6" width="0.70" height="16.30" fill="#b0b0b0"/>
<rect x="334.40" y="690.6" width="1.40" height="16.30" fill="#b3b3b3"/>
<rect x="336.30" y="690.6" width="0.50" height="16.30" fill="#bfbfbf"/>
<rect x="337.30" y="690.6" width="0.70" height="16.30" fill="#aaaaaa"/>
<rect x="338.90" y="690.6" width="1.40" height="16.30" fill="#717171"/>
<rect x="340.50" y="690.6" width="1.40" height="16.30" fill="#bcbcbc"/>
<rect x="342.40" y="690.6" width="0.50" height="16.30" fill="#bcbcbc"/>
<rect x="343.10" y="690.6" width="0.70" height="16.30" fill="#8a8a8a"/>
<rect x="344.30" y="690.6" width="0.50" height="16.30" fill="#939393"/>
<rect x="345.30" y="690.6" width="0.70" height="16.30" fill="#979797"/>
<rect x="346.20" y="690.6" width="1.40" height="16.30" fill="#bebebe"/>
<rect x="248.80" y="706.9" width="5.82" height="3.90" fill="#ee2a30"/>
<rect x="254.57" y="706.9" width="5.82" height="3.90" fill="#e8323a"/>
<rect x="260.34" y="706.9" width="5.82" height="3.90" fill="#ec3a40"/>
<rect x="266.11" y="706.9" width="5.82" height="3.90" fill="#e4363e"/>
<rect x="271.89" y="706.9" width="5.82" height="3.90" fill="#e8444a"/>
<rect x="277.66" y="706.9" width="5.82" height="3.90" fill="#e85860"/>
<rect x="283.43" y="706.9" width="5.82" height="3.90" fill="#ec6a70"/>
<rect x="289.20" y="706.9" width="7.25" height="3.90" fill="#f0a8cc"/>
<rect x="296.40" y="706.9" width="7.25" height="3.90" fill="#f6b6da"/>
<rect x="303.60" y="706.9" width="7.25" height="3.90" fill="#f6b8dc"/>
<rect x="310.80" y="706.9" width="7.25" height="3.90" fill="#f4b4da"/>
<rect x="318.00" y="706.9" width="4.47" height="3.90" fill="#c8c8f2"/>
<rect x="322.43" y="706.9" width="4.47" height="3.90" fill="#c4c4ee"/>
<rect x="326.85" y="706.9" width="4.47" height="3.90" fill="#bcbcee"/>
<rect x="331.27" y="706.9" width="4.47" height="3.90" fill="#c0c0f0"/>
<rect x="335.70" y="706.9" width="2.71" height="3.90" fill="#6a6ae8"/>
<rect x="338.36" y="706.9" width="2.71" height="3.90" fill="#5a5ae6"/>
<rect x="341.02" y="706.9" width="2.71" height="3.90" fill="#4a4ae0"/>
<rect x="343.68" y="706.9" width="2.71" height="3.90" fill="#4040dc"/>
<rect x="346.34" y="706.9" width="2.71" height="3.90" fill="#1c10c8"/>
<rect x="250.80" y="711.80" width="30.10" height="0.7" fill="#f6b8b8"/>
<polyline points="248.10,684.80 249.50,682.60 251.70,676.80 253.90,674.70 255.33,670.99 256.75,668.07 258.18,664.21 259.60,661.00 261.80,653.80 263.23,652.84 264.67,651.57 266.10,650.20 268.30,649.40 269.73,648.76 271.17,647.61 272.60,646.50 274.80,644.40 277.00,646.50 279.10,643.70 280.40,644.09 281.70,644.59 283.00,644.42 284.30,645.03 285.60,645.10 287.07,645.84 288.53,646.77 290.00,647.30 291.20,647.64 292.40,648.31 293.60,649.32 294.80,649.97 296.00,651.00 297.33,652.38 298.67,653.93 300.00,654.50 301.25,655.97 302.50,657.07 303.75,657.90 305.00,659.34 306.25,660.63 307.50,661.41 308.75,662.72 310.00,664.20 311.20,665.03 312.40,667.23 313.60,668.52 314.80,668.80 316.00,670.18 317.20,671.43 318.40,672.72 319.60,674.73 320.80,675.80 322.08,676.82 323.37,677.70 324.65,678.82 325.93,679.19 327.22,680.39 328.50,681.20 329.78,682.04 331.07,681.80 332.35,681.89 333.63,682.44 334.92,683.49 336.20,683.50 337.47,683.77 338.73,684.58 340.00,685.80 342.30,684.50 343.85,685.43 345.40,687.00 346.67,686.64 347.93,685.67 349.20,685.00" fill="none" stroke="#10f00a" stroke-width="1.45" stroke-linejoin="round"/>
<text x="314.90" y="648.80" font-size="7.20" font-weight="normal" font-style="normal" fill="#2a2a2a" text-anchor="start" textLength="35.90" lengthAdjust="spacingAndGlyphs" stroke="#2a2a2a" stroke-width="0.128" >NES = 1.43</text>
<text x="314.90" y="657.00" font-size="7.20" font-weight="normal" font-style="normal" fill="#2a2a2a" text-anchor="start" textLength="33.90" lengthAdjust="spacingAndGlyphs" stroke="#2a2a2a" stroke-width="0.128" >P = 0.0044</text>
<text x="314.90" y="665.50" font-size="7.20" font-weight="normal" font-style="normal" fill="#2a2a2a" text-anchor="start" textLength="35.40" lengthAdjust="spacingAndGlyphs" stroke="#2a2a2a" stroke-width="0.128" >FDR = 0.09</text>
<rect x="247.8" y="641.8" width="107.5" height="71.60000000000002" fill="none" stroke="#3a3a3a" stroke-width="1.5"/>
<text x="403.70" y="637.80" font-size="5.00" font-weight="normal" font-style="normal" fill="#333" text-anchor="start" textLength="92.40" lengthAdjust="spacingAndGlyphs" stroke="#333" stroke-width="0.089" >Enrichment plot: HALLMARK_E2F_TARGETS</text>
<text transform="translate(378.60,664.60) rotate(-90)" x="0" y="0" font-size="6.60" fill="#444" text-anchor="middle" textLength="54.60" lengthAdjust="spacingAndGlyphs">Enrichment score (ES)</text>
<rect x="397.8" y="641.9" width="104.59999999999997" height="71.0" fill="#fff"/>
<rect x="398.8" y="644.25" width="102.60" height="0.5" fill="#f0f0f0"/>
<rect x="395.60" y="644.15" width="2.2" height="0.7" fill="#333"/>
<text x="395.00" y="646.30" font-size="5.40" font-weight="normal" font-style="normal" fill="#666" text-anchor="end" textLength="8.40" lengthAdjust="spacingAndGlyphs" stroke="#666" stroke-width="0.096" >0.05</text>
<rect x="398.8" y="650.04" width="102.60" height="0.5" fill="#f0f0f0"/>
<rect x="395.60" y="649.94" width="2.2" height="0.7" fill="#333"/>
<text x="395.00" y="652.09" font-size="5.40" font-weight="normal" font-style="normal" fill="#666" text-anchor="end" textLength="8.40" lengthAdjust="spacingAndGlyphs" stroke="#666" stroke-width="0.096" >0.00</text>
<rect x="398.8" y="655.82" width="102.60" height="0.5" fill="#f0f0f0"/>
<rect x="395.60" y="655.72" width="2.2" height="0.7" fill="#333"/>
<text x="395.00" y="657.87" font-size="5.40" font-weight="normal" font-style="normal" fill="#666" text-anchor="end" textLength="10.50" lengthAdjust="spacingAndGlyphs" stroke="#666" stroke-width="0.096" >-0.05</text>
<rect x="398.8" y="661.61" width="102.60" height="0.5" fill="#f0f0f0"/>
<rect x="395.60" y="661.51" width="2.2" height="0.7" fill="#333"/>
<text x="395.00" y="663.66" font-size="5.40" font-weight="normal" font-style="normal" fill="#666" text-anchor="end" textLength="10.50" lengthAdjust="spacingAndGlyphs" stroke="#666" stroke-width="0.096" >-0.10</text>
<rect x="398.8" y="667.39" width="102.60" height="0.5" fill="#f0f0f0"/>
<rect x="395.60" y="667.29" width="2.2" height="0.7" fill="#333"/>
<text x="395.00" y="669.44" font-size="5.40" font-weight="normal" font-style="normal" fill="#666" text-anchor="end" textLength="10.50" lengthAdjust="spacingAndGlyphs" stroke="#666" stroke-width="0.096" >-0.15</text>
<rect x="398.8" y="673.18" width="102.60" height="0.5" fill="#f0f0f0"/>
<rect x="395.60" y="673.08" width="2.2" height="0.7" fill="#333"/>
<text x="395.00" y="675.23" font-size="5.40" font-weight="normal" font-style="normal" fill="#666" text-anchor="end" textLength="10.50" lengthAdjust="spacingAndGlyphs" stroke="#666" stroke-width="0.096" >-0.20</text>
<rect x="398.8" y="678.96" width="102.60" height="0.5" fill="#f0f0f0"/>
<rect x="395.60" y="678.86" width="2.2" height="0.7" fill="#333"/>
<text x="395.00" y="681.01" font-size="5.40" font-weight="normal" font-style="normal" fill="#666" text-anchor="end" textLength="10.50" lengthAdjust="spacingAndGlyphs" stroke="#666" stroke-width="0.096" >-0.25</text>
<rect x="398.8" y="684.75" width="102.60" height="0.5" fill="#f0f0f0"/>
<rect x="395.60" y="684.65" width="2.2" height="0.7" fill="#333"/>
<text x="395.00" y="686.80" font-size="5.40" font-weight="normal" font-style="normal" fill="#666" text-anchor="end" textLength="10.50" lengthAdjust="spacingAndGlyphs" stroke="#666" stroke-width="0.096" >-0.30</text>
<rect x="417.55" y="642.9" width="0.5" height="45.10" fill="#ececec"/>
<rect x="436.65" y="642.9" width="0.5" height="45.10" fill="#ececec"/>
<rect x="455.75" y="642.9" width="0.5" height="45.10" fill="#ececec"/>
<rect x="474.85" y="642.9" width="0.5" height="45.10" fill="#ececec"/>
<rect x="493.95" y="642.9" width="0.5" height="45.10" fill="#ececec"/>
<rect x="398.8" y="649.90" width="102.60" height="0.8" fill="#d8d8d8"/>
<rect x="398.8" y="687.70" width="102.60" height="0.6" fill="#e4e4e4"/>
<rect x="399.00" y="690.1" width="1.40" height="14.90" fill="#3c3c3c"/>
<rect x="400.40" y="690.1" width="0.50" height="14.90" fill="#3b3b3b"/>
<rect x="401.80" y="690.1" width="0.90" height="14.90" fill="#202020"/>
<rect x="402.70" y="690.1" width="0.70" height="14.90" fill="#232323"/>
<rect x="403.70" y="690.1" width="0.70" height="14.90" fill="#c7c7c7"/>
<rect x="404.90" y="690.1" width="1.10" height="14.90" fill="#b3b3b3"/>
<rect x="406.00" y="690.1" width="1.40" height="14.90" fill="#2b2b2b"/>
<rect x="407.70" y="690.1" width="0.50" height="14.90" fill="#a4a4a4"/>
<rect x="408.50" y="690.1" width="0.70" height="14.90" fill="#c8c8c8"/>
<rect x="410.10" y="690.1" width="1.40" height="14.90" fill="#848484"/>
<rect x="412.40" y="690.1" width="1.40" height="14.90" fill="#1c1c1c"/>
<rect x="414.70" y="690.1" width="0.50" height="14.90" fill="#737373"/>
<rect x="415.50" y="690.1" width="0.90" height="14.90" fill="#545454"/>
<rect x="417.30" y="690.1" width="1.10" height="14.90" fill="#c8c8c8"/>
<rect x="418.70" y="690.1" width="1.40" height="14.90" fill="#aeaeae"/>
<rect x="420.10" y="690.1" width="0.50" height="14.90" fill="#5d5d5d"/>
<rect x="420.90" y="690.1" width="1.10" height="14.90" fill="#868686"/>
<rect x="422.00" y="690.1" width="0.50" height="14.90" fill="#323232"/>
<rect x="422.50" y="690.1" width="0.90" height="14.90" fill="#6d6d6d"/>
<rect x="423.70" y="690.1" width="0.70" height="14.90" fill="#747474"/>
<rect x="424.90" y="690.1" width="0.90" height="14.90" fill="#3c3c3c"/>
<rect x="425.80" y="690.1" width="0.50" height="14.90" fill="#5b5b5b"/>
<rect x="426.80" y="690.1" width="1.40" height="14.90" fill="#191919"/>
<rect x="428.20" y="690.1" width="0.90" height="14.90" fill="#b4b4b4"/>
<rect x="429.10" y="690.1" width="0.90" height="14.90" fill="#2b2b2b"/>
<rect x="430.00" y="690.1" width="0.40" height="14.90" fill="#b9b9b9"/>
<rect x="441.15" y="690.1" width="0.7" height="14.90" fill="#444"/>
<rect x="451.40" y="690.1" width="1.10" height="14.90" fill="#d2d2d2"/>
<rect x="452.50" y="690.1" width="1.40" height="14.90" fill="#363636"/>
<rect x="453.90" y="690.1" width="0.70" height="14.90" fill="#4c4c4c"/>
<rect x="455.10" y="690.1" width="0.90" height="14.90" fill="#c2c2c2"/>
<rect x="456.30" y="690.1" width="0.90" height="14.90" fill="#1e1e1e"/>
<rect x="457.70" y="690.1" width="0.90" height="14.90" fill="#535353"/>
<rect x="458.60" y="690.1" width="0.70" height="14.90" fill="#0f0f0f"/>
<rect x="459.60" y="690.1" width="0.50" height="14.90" fill="#b1b1b1"/>
<rect x="460.10" y="690.1" width="0.50" height="14.90" fill="#727272"/>
<rect x="460.60" y="690.1" width="0.90" height="14.90" fill="#cecece"/>
<rect x="462.00" y="690.1" width="1.10" height="14.90" fill="#5c5c5c"/>
<rect x="463.60" y="690.1" width="0.50" height="14.90" fill="#121212"/>
<rect x="464.40" y="690.1" width="1.10" height="14.90" fill="#5d5d5d"/>
<rect x="466.40" y="690.1" width="0.70" height="14.90" fill="#0b0b0b"/>
<rect x="467.40" y="690.1" width="0.70" height="14.90" fill="#303030"/>
<rect x="468.10" y="690.1" width="1.10" height="14.90" fill="#262626"/>
<rect x="469.70" y="690.1" width="1.40" height="14.90" fill="#222222"/>
<rect x="471.10" y="690.1" width="1.40" height="14.90" fill="#d1d1d1"/>
<rect x="473.40" y="690.1" width="1.40" height="14.90" fill="#5d5d5d"/>
<rect x="474.80" y="690.1" width="0.50" height="14.90" fill="#9e9e9e"/>
<rect x="475.30" y="690.1" width="1.10" height="14.90" fill="#868686"/>
<rect x="476.70" y="690.1" width="0.90" height="14.90" fill="#6e6e6e"/>
<rect x="477.60" y="690.1" width="1.10" height="14.90" fill="#8a8a8a"/>
<rect x="479.00" y="690.1" width="0.70" height="14.90" fill="#1c1c1c"/>
<rect x="480.00" y="690.1" width="0.50" height="14.90" fill="#b0b0b0"/>
<rect x="481.00" y="690.1" width="0.90" height="14.90" fill="#cacaca"/>
<rect x="482.40" y="690.1" width="1.10" height="14.90" fill="#bfbfbf"/>
<rect x="483.80" y="690.1" width="0.50" height="14.90" fill="#979797"/>
<rect x="484.30" y="690.1" width="0.50" height="14.90" fill="#3b3b3b"/>
<rect x="485.30" y="690.1" width="1.10" height="14.90" fill="#828282"/>
<rect x="486.70" y="690.1" width="1.10" height="14.90" fill="#717171"/>
<rect x="488.70" y="690.1" width="0.50" height="14.90" fill="#282828"/>
<rect x="489.20" y="690.1" width="1.10" height="14.90" fill="#d2d2d2"/>
<rect x="490.30" y="690.1" width="1.10" height="14.90" fill="#b9b9b9"/>
<rect x="491.70" y="690.1" width="1.10" height="14.90" fill="#2c2c2c"/>
<rect x="493.10" y="690.1" width="0.70" height="14.90" fill="#b3b3b3"/>
<rect x="494.30" y="690.1" width="1.40" height="14.90" fill="#5a5a5a"/>
<rect x="496.60" y="690.1" width="0.50" height="14.90" fill="#0c0c0c"/>
<rect x="497.60" y="690.1" width="0.30" height="14.90" fill="#bebebe"/>
<rect x="398.80" y="705.0" width="3.62" height="3.50" fill="#ee2a30"/>
<rect x="402.37" y="705.0" width="3.62" height="3.50" fill="#e8323a"/>
<rect x="405.94" y="705.0" width="3.62" height="3.50" fill="#ec3a40"/>
<rect x="409.51" y="705.0" width="3.62" height="3.50" fill="#e4363e"/>
<rect x="413.09" y="705.0" width="3.62" height="3.50" fill="#e8444a"/>
<rect x="416.66" y="705.0" width="3.62" height="3.50" fill="#e85860"/>
<rect x="420.23" y="705.0" width="3.62" height="3.50" fill="#ec6a70"/>
<rect x="423.80" y="705.0" width="5.85" height="3.50" fill="#f0a8cc"/>
<rect x="429.60" y="705.0" width="5.85" height="3.50" fill="#f6b6da"/>
<rect x="435.40" y="705.0" width="5.85" height="3.50" fill="#f6b8dc"/>
<rect x="441.20" y="705.0" width="5.85" height="3.50" fill="#f4b4da"/>
<rect x="447.00" y="705.0" width="5.85" height="3.50" fill="#c8c8f2"/>
<rect x="452.80" y="705.0" width="5.85" height="3.50" fill="#c4c4ee"/>
<rect x="458.60" y="705.0" width="5.85" height="3.50" fill="#bcbcee"/>
<rect x="464.40" y="705.0" width="5.85" height="3.50" fill="#c0c0f0"/>
<rect x="470.20" y="705.0" width="5.59" height="3.50" fill="#6a6ae8"/>
<rect x="475.74" y="705.0" width="5.59" height="3.50" fill="#5a5ae6"/>
<rect x="481.28" y="705.0" width="5.59" height="3.50" fill="#4a4ae0"/>
<rect x="486.82" y="705.0" width="5.59" height="3.50" fill="#4040dc"/>
<rect x="492.36" y="705.0" width="5.59" height="3.50" fill="#1c10c8"/>
<rect x="400.80" y="709.50" width="29.29" height="0.7" fill="#f6b8b8"/>
<polyline points="397.90,649.60 399.35,648.41 400.80,647.30 403.10,648.00 404.63,646.60 406.17,645.47 407.70,644.50 409.25,644.91 410.80,646.10 412.30,645.41 413.80,644.20 415.35,643.60 416.90,644.20 418.20,645.03 419.50,645.99 420.80,646.50 422.02,647.03 423.24,648.23 424.46,649.42 425.68,650.12 426.90,650.40 428.18,652.35 429.47,653.17 430.75,655.30 432.03,657.08 433.32,657.67 434.60,659.60 435.95,661.07 437.30,662.52 438.65,664.03 440.00,665.80 442.30,668.80 443.58,670.43 444.87,671.56 446.15,673.76 447.43,674.75 448.72,676.77 450.00,678.10 452.30,679.60 453.55,680.97 454.80,680.95 456.05,682.08 457.30,682.81 458.55,683.10 459.80,683.81 461.05,684.58 462.30,685.80 463.51,685.35 464.73,684.86 465.94,685.37 467.16,684.75 468.37,684.72 469.59,684.31 470.80,684.20 472.08,684.49 473.37,685.34 474.65,685.59 475.93,685.20 477.22,686.30 478.50,686.50 480.03,684.52 481.57,683.45 483.10,681.90 484.65,677.70 486.20,674.20 487.70,669.50 489.20,664.20 490.75,663.30 492.30,661.90 494.60,656.50 496.15,653.41 497.70,649.60" fill="none" stroke="#10f00a" stroke-width="1.45" stroke-linejoin="round"/>
<text x="400.80" y="667.60" font-size="7.20" font-weight="normal" font-style="normal" fill="#2a2a2a" text-anchor="start" textLength="36.90" lengthAdjust="spacingAndGlyphs" stroke="#2a2a2a" stroke-width="0.128" >NES = -1.07</text>
<text x="400.80" y="675.80" font-size="7.20" font-weight="normal" font-style="normal" fill="#2a2a2a" text-anchor="start" textLength="30.00" lengthAdjust="spacingAndGlyphs" stroke="#2a2a2a" stroke-width="0.128" >P = 0.328</text>
<text x="400.80" y="684.20" font-size="7.20" font-weight="normal" font-style="normal" fill="#2a2a2a" text-anchor="start" textLength="31.00" lengthAdjust="spacingAndGlyphs" stroke="#2a2a2a" stroke-width="0.128" >FDR = 1.0</text>
<rect x="397.8" y="641.9" width="104.59999999999997" height="71.0" fill="none" stroke="#3a3a3a" stroke-width="1.5"/>
<text x="34.00" y="674.80" font-size="9.40" font-weight="normal" font-style="normal" fill="#333" text-anchor="start" textLength="19.70" lengthAdjust="spacingAndGlyphs" stroke="#333" stroke-width="0.167" >G2M</text>
<text x="22.40" y="685.60" font-size="9.40" font-weight="normal" font-style="normal" fill="#333" text-anchor="start" textLength="42.80" lengthAdjust="spacingAndGlyphs" stroke="#333" stroke-width="0.167" >checkpoint</text>
<text x="88.90" y="725.20" font-size="8.60" font-weight="normal" font-style="italic" fill="#333" text-anchor="start" textLength="45.70" lengthAdjust="spacingAndGlyphs" stroke="#333" stroke-width="0.153" >Mx1-cre;Calr</text>
<text x="136.50" y="720.60" font-size="4.90" font-weight="normal" font-style="normal" fill="#555" text-anchor="start" textLength="9.30" lengthAdjust="spacingAndGlyphs" stroke="#555" stroke-width="0.087" >+/-</text>
<text x="156.60" y="725.20" font-size="8.60" font-weight="normal" font-style="italic" fill="#333" text-anchor="start" textLength="46.90" lengthAdjust="spacingAndGlyphs" stroke="#333" stroke-width="0.153" >Mx1-cre;Calr</text>
<text x="206.40" y="720.60" font-size="4.90" font-weight="normal" font-style="normal" fill="#555" text-anchor="start" textLength="8.60" lengthAdjust="spacingAndGlyphs" stroke="#555" stroke-width="0.087" >+/+</text>
<text x="239.40" y="725.20" font-size="8.60" font-weight="normal" font-style="italic" fill="#333" text-anchor="start" textLength="46.90" lengthAdjust="spacingAndGlyphs" stroke="#333" stroke-width="0.153" >Mx1-cre;Calr</text>
<text x="288.50" y="720.60" font-size="4.90" font-weight="normal" font-style="normal" fill="#555" text-anchor="start" textLength="7.20" lengthAdjust="spacingAndGlyphs" stroke="#555" stroke-width="0.087" >+/-</text>
<text x="308.20" y="725.20" font-size="8.60" font-weight="normal" font-style="italic" fill="#333" text-anchor="start" textLength="46.40" lengthAdjust="spacingAndGlyphs" stroke="#333" stroke-width="0.153" >Mx1-cre;Calr</text>
<text x="356.00" y="720.60" font-size="4.90" font-weight="normal" font-style="normal" fill="#555" text-anchor="start" textLength="6.30" lengthAdjust="spacingAndGlyphs" stroke="#555" stroke-width="0.087" >f/-</text>
<text x="390.00" y="725.20" font-size="8.60" font-weight="normal" font-style="italic" fill="#333" text-anchor="start" textLength="47.70" lengthAdjust="spacingAndGlyphs" stroke="#333" stroke-width="0.153" >Mx1-cre;Calr</text>
<text x="439.50" y="720.60" font-size="4.90" font-weight="normal" font-style="normal" fill="#555" text-anchor="start" textLength="5.10" lengthAdjust="spacingAndGlyphs" stroke="#555" stroke-width="0.087" >f/-</text>
<text x="453.80" y="725.20" font-size="8.60" font-weight="normal" font-style="italic" fill="#333" text-anchor="start" textLength="45.40" lengthAdjust="spacingAndGlyphs" stroke="#333" stroke-width="0.153" >Mx1-cre;Calr</text>
<text x="501.00" y="720.60" font-size="4.90" font-weight="normal" font-style="normal" fill="#555" text-anchor="start" textLength="10.50" lengthAdjust="spacingAndGlyphs" stroke="#555" stroke-width="0.087" >+/+</text>
</svg></body></html>
